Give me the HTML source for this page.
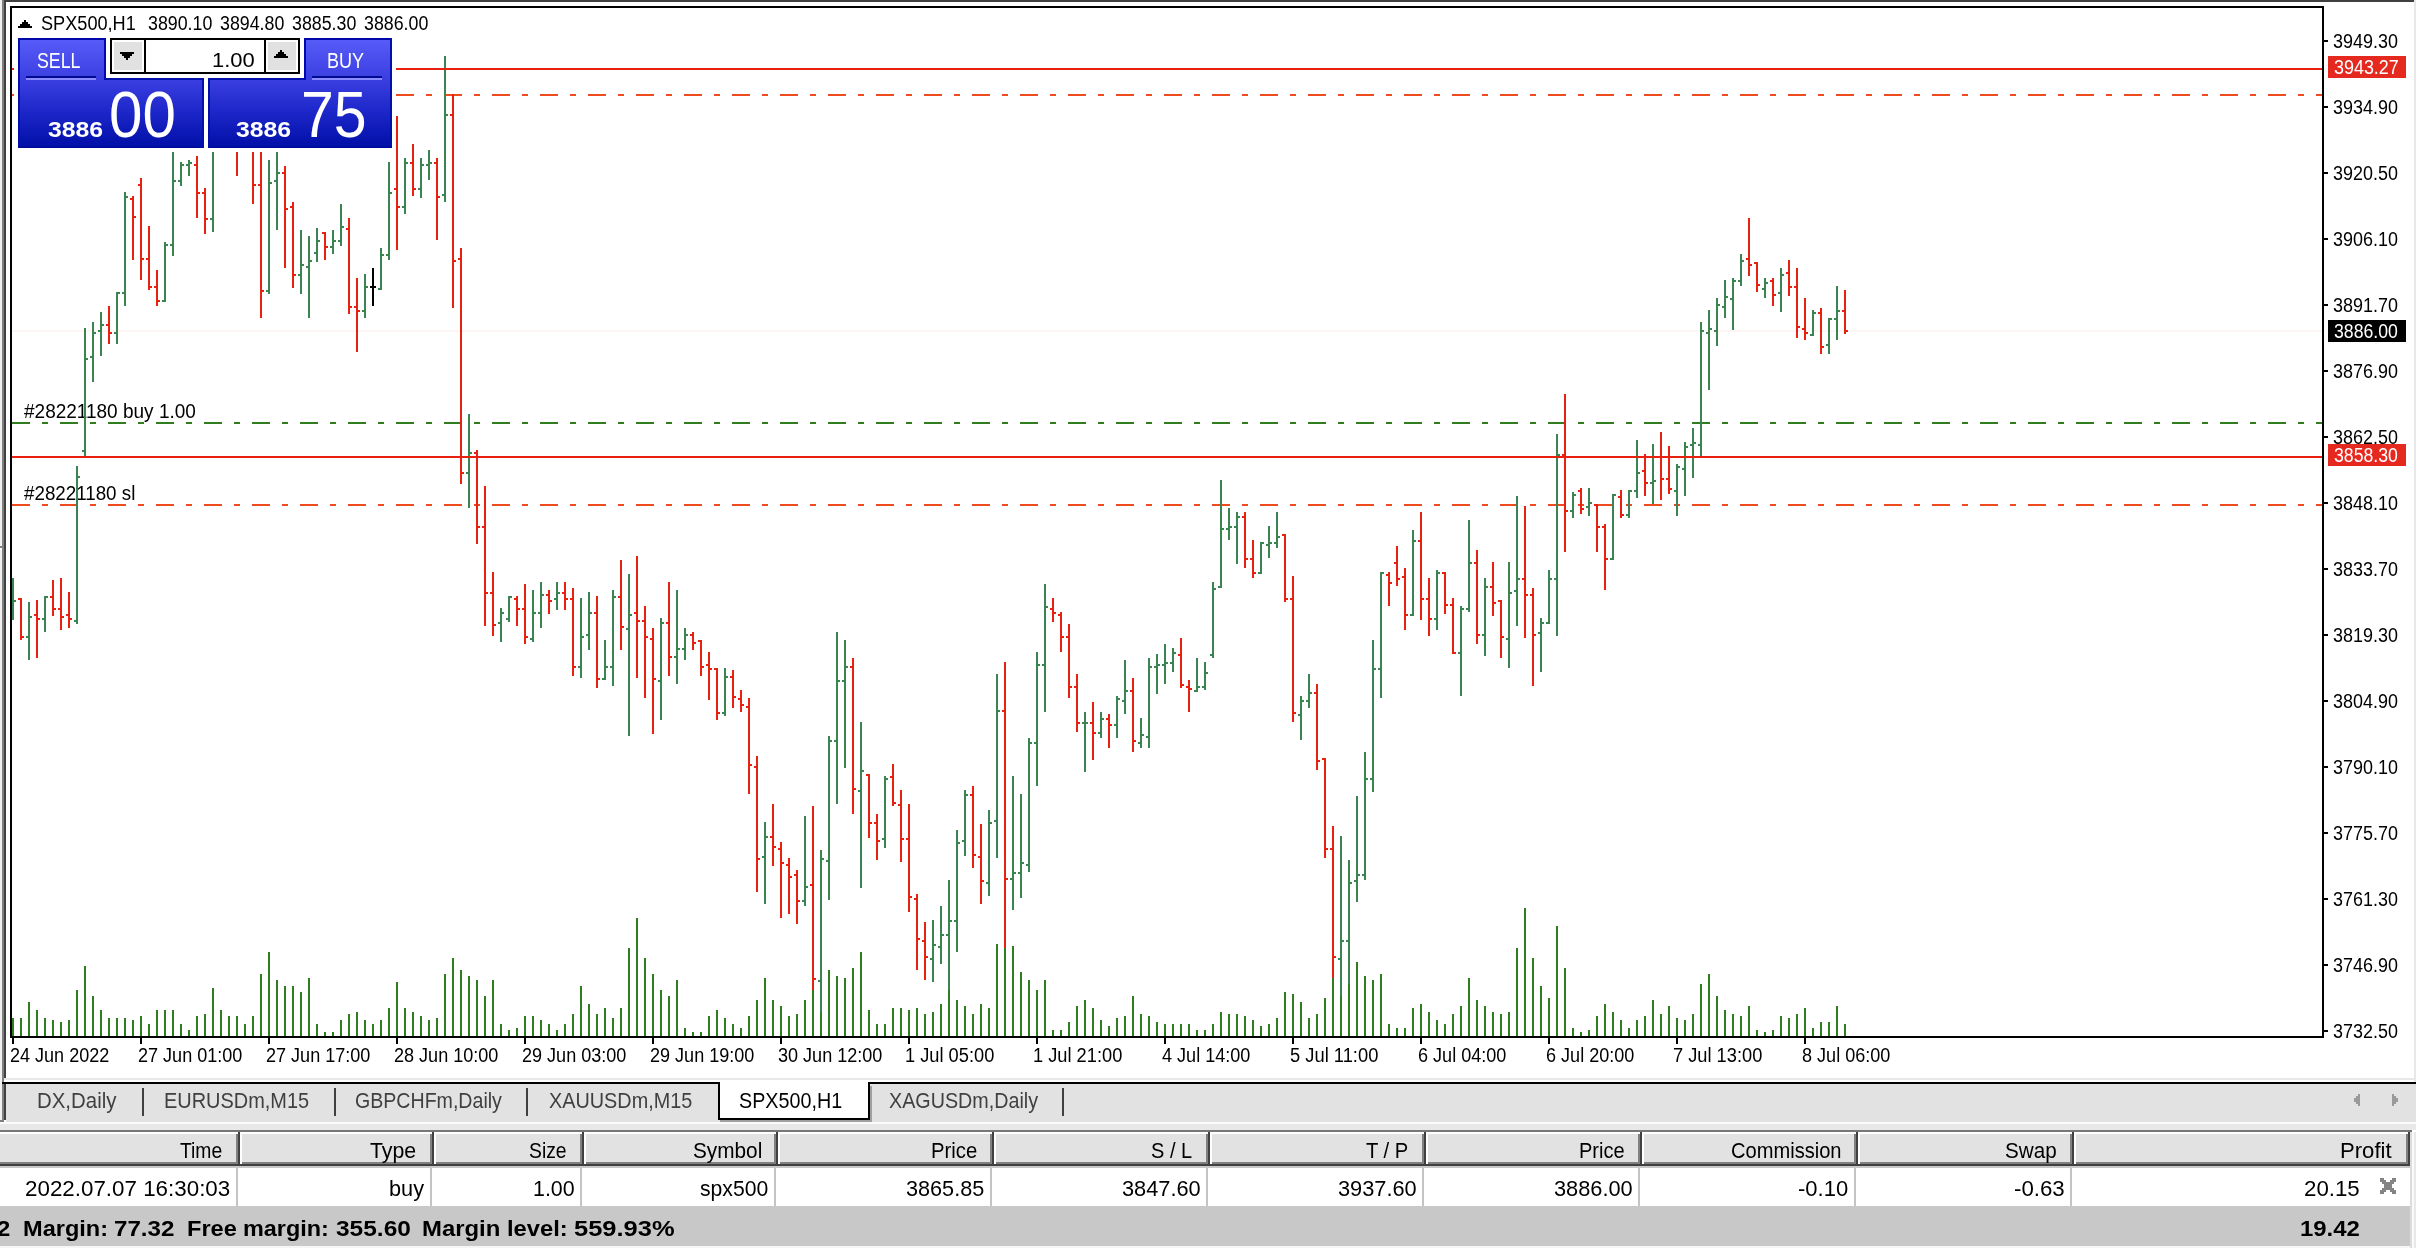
<!DOCTYPE html>
<html><head><meta charset="utf-8"><title>SPX500,H1</title>
<style>
html,body{margin:0;padding:0;overflow:hidden;}
body{width:2416px;height:1248px;position:relative;overflow:hidden;background:#fff;font-family:"Liberation Sans", sans-serif;}
#w{position:absolute;left:0;top:0;width:2416px;height:1248px;will-change:transform;}
#w>div{position:absolute;}
.t{white-space:pre;}
</style></head><body><div id="w">
<div style="left:0px;top:0px;width:2px;height:1122px;background:#f0f0f0;"></div>
<div style="left:2px;top:0px;width:2px;height:1122px;background:#808080;"></div>
<div style="left:4px;top:0px;width:2px;height:1078px;background:#404040;"></div>
<div style="left:4px;top:1084px;width:2px;height:36px;background:#404040;"></div>
<div style="left:0px;top:1120px;width:4px;height:2px;background:#808080;"></div>
<div style="left:0px;top:546px;width:2px;height:2px;background:#808080;"></div>
<div style="left:0px;top:548px;width:2px;height:2px;background:#fff;"></div>
<div style="left:4px;top:0px;width:2410px;height:2px;background:#404040;"></div>
<div style="left:2414px;top:0px;width:2px;height:1084px;background:#e8e8e8;"></div>
<div style="left:10px;top:6px;width:2314px;height:2px;background:#000;"></div>
<div style="left:10px;top:6px;width:2px;height:1032px;background:#000;"></div>
<div style="left:10px;top:1036px;width:2314px;height:2px;background:#000;"></div>
<div style="left:2322px;top:6px;width:2px;height:1032px;background:#000;"></div>
<div class="t" style="left:24.00px;top:402.49px;font-size:19.5px;line-height:19.5px;color:#000;transform:scaleX(0.9743);transform-origin:0 0;">#28221180 buy 1.00</div>
<div class="t" style="left:24.00px;top:484.49px;font-size:19.5px;line-height:19.5px;color:#000;transform:scaleX(0.9625);transform-origin:0 0;">#28221180 sl</div>
<svg style="position:absolute;left:0;top:0" width="2416" height="1040" shape-rendering="crispEdges"><rect x="12" y="330" width="2310" height="2" fill="#fdf5f3"/><rect x="12" y="94" width="18" height="2" fill="#ee4c20"/><rect x="42" y="94" width="6" height="2" fill="#ee4c20"/><rect x="60" y="94" width="18" height="2" fill="#ee4c20"/><rect x="90" y="94" width="6" height="2" fill="#ee4c20"/><rect x="108" y="94" width="18" height="2" fill="#ee4c20"/><rect x="138" y="94" width="6" height="2" fill="#ee4c20"/><rect x="156" y="94" width="18" height="2" fill="#ee4c20"/><rect x="186" y="94" width="6" height="2" fill="#ee4c20"/><rect x="204" y="94" width="18" height="2" fill="#ee4c20"/><rect x="234" y="94" width="6" height="2" fill="#ee4c20"/><rect x="252" y="94" width="18" height="2" fill="#ee4c20"/><rect x="282" y="94" width="6" height="2" fill="#ee4c20"/><rect x="300" y="94" width="18" height="2" fill="#ee4c20"/><rect x="330" y="94" width="6" height="2" fill="#ee4c20"/><rect x="348" y="94" width="18" height="2" fill="#ee4c20"/><rect x="378" y="94" width="6" height="2" fill="#ee4c20"/><rect x="396" y="94" width="18" height="2" fill="#ee4c20"/><rect x="426" y="94" width="6" height="2" fill="#ee4c20"/><rect x="444" y="94" width="18" height="2" fill="#ee4c20"/><rect x="474" y="94" width="6" height="2" fill="#ee4c20"/><rect x="492" y="94" width="18" height="2" fill="#ee4c20"/><rect x="522" y="94" width="6" height="2" fill="#ee4c20"/><rect x="540" y="94" width="18" height="2" fill="#ee4c20"/><rect x="570" y="94" width="6" height="2" fill="#ee4c20"/><rect x="588" y="94" width="18" height="2" fill="#ee4c20"/><rect x="618" y="94" width="6" height="2" fill="#ee4c20"/><rect x="636" y="94" width="18" height="2" fill="#ee4c20"/><rect x="666" y="94" width="6" height="2" fill="#ee4c20"/><rect x="684" y="94" width="18" height="2" fill="#ee4c20"/><rect x="714" y="94" width="6" height="2" fill="#ee4c20"/><rect x="732" y="94" width="18" height="2" fill="#ee4c20"/><rect x="762" y="94" width="6" height="2" fill="#ee4c20"/><rect x="780" y="94" width="18" height="2" fill="#ee4c20"/><rect x="810" y="94" width="6" height="2" fill="#ee4c20"/><rect x="828" y="94" width="18" height="2" fill="#ee4c20"/><rect x="858" y="94" width="6" height="2" fill="#ee4c20"/><rect x="876" y="94" width="18" height="2" fill="#ee4c20"/><rect x="906" y="94" width="6" height="2" fill="#ee4c20"/><rect x="924" y="94" width="18" height="2" fill="#ee4c20"/><rect x="954" y="94" width="6" height="2" fill="#ee4c20"/><rect x="972" y="94" width="18" height="2" fill="#ee4c20"/><rect x="1002" y="94" width="6" height="2" fill="#ee4c20"/><rect x="1020" y="94" width="18" height="2" fill="#ee4c20"/><rect x="1050" y="94" width="6" height="2" fill="#ee4c20"/><rect x="1068" y="94" width="18" height="2" fill="#ee4c20"/><rect x="1098" y="94" width="6" height="2" fill="#ee4c20"/><rect x="1116" y="94" width="18" height="2" fill="#ee4c20"/><rect x="1146" y="94" width="6" height="2" fill="#ee4c20"/><rect x="1164" y="94" width="18" height="2" fill="#ee4c20"/><rect x="1194" y="94" width="6" height="2" fill="#ee4c20"/><rect x="1212" y="94" width="18" height="2" fill="#ee4c20"/><rect x="1242" y="94" width="6" height="2" fill="#ee4c20"/><rect x="1260" y="94" width="18" height="2" fill="#ee4c20"/><rect x="1290" y="94" width="6" height="2" fill="#ee4c20"/><rect x="1308" y="94" width="18" height="2" fill="#ee4c20"/><rect x="1338" y="94" width="6" height="2" fill="#ee4c20"/><rect x="1356" y="94" width="18" height="2" fill="#ee4c20"/><rect x="1386" y="94" width="6" height="2" fill="#ee4c20"/><rect x="1404" y="94" width="18" height="2" fill="#ee4c20"/><rect x="1434" y="94" width="6" height="2" fill="#ee4c20"/><rect x="1452" y="94" width="18" height="2" fill="#ee4c20"/><rect x="1482" y="94" width="6" height="2" fill="#ee4c20"/><rect x="1500" y="94" width="18" height="2" fill="#ee4c20"/><rect x="1530" y="94" width="6" height="2" fill="#ee4c20"/><rect x="1548" y="94" width="18" height="2" fill="#ee4c20"/><rect x="1578" y="94" width="6" height="2" fill="#ee4c20"/><rect x="1596" y="94" width="18" height="2" fill="#ee4c20"/><rect x="1626" y="94" width="6" height="2" fill="#ee4c20"/><rect x="1644" y="94" width="18" height="2" fill="#ee4c20"/><rect x="1674" y="94" width="6" height="2" fill="#ee4c20"/><rect x="1692" y="94" width="18" height="2" fill="#ee4c20"/><rect x="1722" y="94" width="6" height="2" fill="#ee4c20"/><rect x="1740" y="94" width="18" height="2" fill="#ee4c20"/><rect x="1770" y="94" width="6" height="2" fill="#ee4c20"/><rect x="1788" y="94" width="18" height="2" fill="#ee4c20"/><rect x="1818" y="94" width="6" height="2" fill="#ee4c20"/><rect x="1836" y="94" width="18" height="2" fill="#ee4c20"/><rect x="1866" y="94" width="6" height="2" fill="#ee4c20"/><rect x="1884" y="94" width="18" height="2" fill="#ee4c20"/><rect x="1914" y="94" width="6" height="2" fill="#ee4c20"/><rect x="1932" y="94" width="18" height="2" fill="#ee4c20"/><rect x="1962" y="94" width="6" height="2" fill="#ee4c20"/><rect x="1980" y="94" width="18" height="2" fill="#ee4c20"/><rect x="2010" y="94" width="6" height="2" fill="#ee4c20"/><rect x="2028" y="94" width="18" height="2" fill="#ee4c20"/><rect x="2058" y="94" width="6" height="2" fill="#ee4c20"/><rect x="2076" y="94" width="18" height="2" fill="#ee4c20"/><rect x="2106" y="94" width="6" height="2" fill="#ee4c20"/><rect x="2124" y="94" width="18" height="2" fill="#ee4c20"/><rect x="2154" y="94" width="6" height="2" fill="#ee4c20"/><rect x="2172" y="94" width="18" height="2" fill="#ee4c20"/><rect x="2202" y="94" width="6" height="2" fill="#ee4c20"/><rect x="2220" y="94" width="18" height="2" fill="#ee4c20"/><rect x="2250" y="94" width="6" height="2" fill="#ee4c20"/><rect x="2268" y="94" width="18" height="2" fill="#ee4c20"/><rect x="2298" y="94" width="6" height="2" fill="#ee4c20"/><rect x="2316" y="94" width="6" height="2" fill="#ee4c20"/><rect x="12" y="422" width="18" height="2" fill="#2e7d1e"/><rect x="42" y="422" width="6" height="2" fill="#2e7d1e"/><rect x="60" y="422" width="18" height="2" fill="#2e7d1e"/><rect x="90" y="422" width="6" height="2" fill="#2e7d1e"/><rect x="108" y="422" width="18" height="2" fill="#2e7d1e"/><rect x="138" y="422" width="6" height="2" fill="#2e7d1e"/><rect x="156" y="422" width="18" height="2" fill="#2e7d1e"/><rect x="186" y="422" width="6" height="2" fill="#2e7d1e"/><rect x="204" y="422" width="18" height="2" fill="#2e7d1e"/><rect x="234" y="422" width="6" height="2" fill="#2e7d1e"/><rect x="252" y="422" width="18" height="2" fill="#2e7d1e"/><rect x="282" y="422" width="6" height="2" fill="#2e7d1e"/><rect x="300" y="422" width="18" height="2" fill="#2e7d1e"/><rect x="330" y="422" width="6" height="2" fill="#2e7d1e"/><rect x="348" y="422" width="18" height="2" fill="#2e7d1e"/><rect x="378" y="422" width="6" height="2" fill="#2e7d1e"/><rect x="396" y="422" width="18" height="2" fill="#2e7d1e"/><rect x="426" y="422" width="6" height="2" fill="#2e7d1e"/><rect x="444" y="422" width="18" height="2" fill="#2e7d1e"/><rect x="474" y="422" width="6" height="2" fill="#2e7d1e"/><rect x="492" y="422" width="18" height="2" fill="#2e7d1e"/><rect x="522" y="422" width="6" height="2" fill="#2e7d1e"/><rect x="540" y="422" width="18" height="2" fill="#2e7d1e"/><rect x="570" y="422" width="6" height="2" fill="#2e7d1e"/><rect x="588" y="422" width="18" height="2" fill="#2e7d1e"/><rect x="618" y="422" width="6" height="2" fill="#2e7d1e"/><rect x="636" y="422" width="18" height="2" fill="#2e7d1e"/><rect x="666" y="422" width="6" height="2" fill="#2e7d1e"/><rect x="684" y="422" width="18" height="2" fill="#2e7d1e"/><rect x="714" y="422" width="6" height="2" fill="#2e7d1e"/><rect x="732" y="422" width="18" height="2" fill="#2e7d1e"/><rect x="762" y="422" width="6" height="2" fill="#2e7d1e"/><rect x="780" y="422" width="18" height="2" fill="#2e7d1e"/><rect x="810" y="422" width="6" height="2" fill="#2e7d1e"/><rect x="828" y="422" width="18" height="2" fill="#2e7d1e"/><rect x="858" y="422" width="6" height="2" fill="#2e7d1e"/><rect x="876" y="422" width="18" height="2" fill="#2e7d1e"/><rect x="906" y="422" width="6" height="2" fill="#2e7d1e"/><rect x="924" y="422" width="18" height="2" fill="#2e7d1e"/><rect x="954" y="422" width="6" height="2" fill="#2e7d1e"/><rect x="972" y="422" width="18" height="2" fill="#2e7d1e"/><rect x="1002" y="422" width="6" height="2" fill="#2e7d1e"/><rect x="1020" y="422" width="18" height="2" fill="#2e7d1e"/><rect x="1050" y="422" width="6" height="2" fill="#2e7d1e"/><rect x="1068" y="422" width="18" height="2" fill="#2e7d1e"/><rect x="1098" y="422" width="6" height="2" fill="#2e7d1e"/><rect x="1116" y="422" width="18" height="2" fill="#2e7d1e"/><rect x="1146" y="422" width="6" height="2" fill="#2e7d1e"/><rect x="1164" y="422" width="18" height="2" fill="#2e7d1e"/><rect x="1194" y="422" width="6" height="2" fill="#2e7d1e"/><rect x="1212" y="422" width="18" height="2" fill="#2e7d1e"/><rect x="1242" y="422" width="6" height="2" fill="#2e7d1e"/><rect x="1260" y="422" width="18" height="2" fill="#2e7d1e"/><rect x="1290" y="422" width="6" height="2" fill="#2e7d1e"/><rect x="1308" y="422" width="18" height="2" fill="#2e7d1e"/><rect x="1338" y="422" width="6" height="2" fill="#2e7d1e"/><rect x="1356" y="422" width="18" height="2" fill="#2e7d1e"/><rect x="1386" y="422" width="6" height="2" fill="#2e7d1e"/><rect x="1404" y="422" width="18" height="2" fill="#2e7d1e"/><rect x="1434" y="422" width="6" height="2" fill="#2e7d1e"/><rect x="1452" y="422" width="18" height="2" fill="#2e7d1e"/><rect x="1482" y="422" width="6" height="2" fill="#2e7d1e"/><rect x="1500" y="422" width="18" height="2" fill="#2e7d1e"/><rect x="1530" y="422" width="6" height="2" fill="#2e7d1e"/><rect x="1548" y="422" width="18" height="2" fill="#2e7d1e"/><rect x="1578" y="422" width="6" height="2" fill="#2e7d1e"/><rect x="1596" y="422" width="18" height="2" fill="#2e7d1e"/><rect x="1626" y="422" width="6" height="2" fill="#2e7d1e"/><rect x="1644" y="422" width="18" height="2" fill="#2e7d1e"/><rect x="1674" y="422" width="6" height="2" fill="#2e7d1e"/><rect x="1692" y="422" width="18" height="2" fill="#2e7d1e"/><rect x="1722" y="422" width="6" height="2" fill="#2e7d1e"/><rect x="1740" y="422" width="18" height="2" fill="#2e7d1e"/><rect x="1770" y="422" width="6" height="2" fill="#2e7d1e"/><rect x="1788" y="422" width="18" height="2" fill="#2e7d1e"/><rect x="1818" y="422" width="6" height="2" fill="#2e7d1e"/><rect x="1836" y="422" width="18" height="2" fill="#2e7d1e"/><rect x="1866" y="422" width="6" height="2" fill="#2e7d1e"/><rect x="1884" y="422" width="18" height="2" fill="#2e7d1e"/><rect x="1914" y="422" width="6" height="2" fill="#2e7d1e"/><rect x="1932" y="422" width="18" height="2" fill="#2e7d1e"/><rect x="1962" y="422" width="6" height="2" fill="#2e7d1e"/><rect x="1980" y="422" width="18" height="2" fill="#2e7d1e"/><rect x="2010" y="422" width="6" height="2" fill="#2e7d1e"/><rect x="2028" y="422" width="18" height="2" fill="#2e7d1e"/><rect x="2058" y="422" width="6" height="2" fill="#2e7d1e"/><rect x="2076" y="422" width="18" height="2" fill="#2e7d1e"/><rect x="2106" y="422" width="6" height="2" fill="#2e7d1e"/><rect x="2124" y="422" width="18" height="2" fill="#2e7d1e"/><rect x="2154" y="422" width="6" height="2" fill="#2e7d1e"/><rect x="2172" y="422" width="18" height="2" fill="#2e7d1e"/><rect x="2202" y="422" width="6" height="2" fill="#2e7d1e"/><rect x="2220" y="422" width="18" height="2" fill="#2e7d1e"/><rect x="2250" y="422" width="6" height="2" fill="#2e7d1e"/><rect x="2268" y="422" width="18" height="2" fill="#2e7d1e"/><rect x="2298" y="422" width="6" height="2" fill="#2e7d1e"/><rect x="2316" y="422" width="6" height="2" fill="#2e7d1e"/><rect x="12" y="504" width="18" height="2" fill="#ee4c20"/><rect x="42" y="504" width="6" height="2" fill="#ee4c20"/><rect x="60" y="504" width="18" height="2" fill="#ee4c20"/><rect x="90" y="504" width="6" height="2" fill="#ee4c20"/><rect x="108" y="504" width="18" height="2" fill="#ee4c20"/><rect x="138" y="504" width="6" height="2" fill="#ee4c20"/><rect x="156" y="504" width="18" height="2" fill="#ee4c20"/><rect x="186" y="504" width="6" height="2" fill="#ee4c20"/><rect x="204" y="504" width="18" height="2" fill="#ee4c20"/><rect x="234" y="504" width="6" height="2" fill="#ee4c20"/><rect x="252" y="504" width="18" height="2" fill="#ee4c20"/><rect x="282" y="504" width="6" height="2" fill="#ee4c20"/><rect x="300" y="504" width="18" height="2" fill="#ee4c20"/><rect x="330" y="504" width="6" height="2" fill="#ee4c20"/><rect x="348" y="504" width="18" height="2" fill="#ee4c20"/><rect x="378" y="504" width="6" height="2" fill="#ee4c20"/><rect x="396" y="504" width="18" height="2" fill="#ee4c20"/><rect x="426" y="504" width="6" height="2" fill="#ee4c20"/><rect x="444" y="504" width="18" height="2" fill="#ee4c20"/><rect x="474" y="504" width="6" height="2" fill="#ee4c20"/><rect x="492" y="504" width="18" height="2" fill="#ee4c20"/><rect x="522" y="504" width="6" height="2" fill="#ee4c20"/><rect x="540" y="504" width="18" height="2" fill="#ee4c20"/><rect x="570" y="504" width="6" height="2" fill="#ee4c20"/><rect x="588" y="504" width="18" height="2" fill="#ee4c20"/><rect x="618" y="504" width="6" height="2" fill="#ee4c20"/><rect x="636" y="504" width="18" height="2" fill="#ee4c20"/><rect x="666" y="504" width="6" height="2" fill="#ee4c20"/><rect x="684" y="504" width="18" height="2" fill="#ee4c20"/><rect x="714" y="504" width="6" height="2" fill="#ee4c20"/><rect x="732" y="504" width="18" height="2" fill="#ee4c20"/><rect x="762" y="504" width="6" height="2" fill="#ee4c20"/><rect x="780" y="504" width="18" height="2" fill="#ee4c20"/><rect x="810" y="504" width="6" height="2" fill="#ee4c20"/><rect x="828" y="504" width="18" height="2" fill="#ee4c20"/><rect x="858" y="504" width="6" height="2" fill="#ee4c20"/><rect x="876" y="504" width="18" height="2" fill="#ee4c20"/><rect x="906" y="504" width="6" height="2" fill="#ee4c20"/><rect x="924" y="504" width="18" height="2" fill="#ee4c20"/><rect x="954" y="504" width="6" height="2" fill="#ee4c20"/><rect x="972" y="504" width="18" height="2" fill="#ee4c20"/><rect x="1002" y="504" width="6" height="2" fill="#ee4c20"/><rect x="1020" y="504" width="18" height="2" fill="#ee4c20"/><rect x="1050" y="504" width="6" height="2" fill="#ee4c20"/><rect x="1068" y="504" width="18" height="2" fill="#ee4c20"/><rect x="1098" y="504" width="6" height="2" fill="#ee4c20"/><rect x="1116" y="504" width="18" height="2" fill="#ee4c20"/><rect x="1146" y="504" width="6" height="2" fill="#ee4c20"/><rect x="1164" y="504" width="18" height="2" fill="#ee4c20"/><rect x="1194" y="504" width="6" height="2" fill="#ee4c20"/><rect x="1212" y="504" width="18" height="2" fill="#ee4c20"/><rect x="1242" y="504" width="6" height="2" fill="#ee4c20"/><rect x="1260" y="504" width="18" height="2" fill="#ee4c20"/><rect x="1290" y="504" width="6" height="2" fill="#ee4c20"/><rect x="1308" y="504" width="18" height="2" fill="#ee4c20"/><rect x="1338" y="504" width="6" height="2" fill="#ee4c20"/><rect x="1356" y="504" width="18" height="2" fill="#ee4c20"/><rect x="1386" y="504" width="6" height="2" fill="#ee4c20"/><rect x="1404" y="504" width="18" height="2" fill="#ee4c20"/><rect x="1434" y="504" width="6" height="2" fill="#ee4c20"/><rect x="1452" y="504" width="18" height="2" fill="#ee4c20"/><rect x="1482" y="504" width="6" height="2" fill="#ee4c20"/><rect x="1500" y="504" width="18" height="2" fill="#ee4c20"/><rect x="1530" y="504" width="6" height="2" fill="#ee4c20"/><rect x="1548" y="504" width="18" height="2" fill="#ee4c20"/><rect x="1578" y="504" width="6" height="2" fill="#ee4c20"/><rect x="1596" y="504" width="18" height="2" fill="#ee4c20"/><rect x="1626" y="504" width="6" height="2" fill="#ee4c20"/><rect x="1644" y="504" width="18" height="2" fill="#ee4c20"/><rect x="1674" y="504" width="6" height="2" fill="#ee4c20"/><rect x="1692" y="504" width="18" height="2" fill="#ee4c20"/><rect x="1722" y="504" width="6" height="2" fill="#ee4c20"/><rect x="1740" y="504" width="18" height="2" fill="#ee4c20"/><rect x="1770" y="504" width="6" height="2" fill="#ee4c20"/><rect x="1788" y="504" width="18" height="2" fill="#ee4c20"/><rect x="1818" y="504" width="6" height="2" fill="#ee4c20"/><rect x="1836" y="504" width="18" height="2" fill="#ee4c20"/><rect x="1866" y="504" width="6" height="2" fill="#ee4c20"/><rect x="1884" y="504" width="18" height="2" fill="#ee4c20"/><rect x="1914" y="504" width="6" height="2" fill="#ee4c20"/><rect x="1932" y="504" width="18" height="2" fill="#ee4c20"/><rect x="1962" y="504" width="6" height="2" fill="#ee4c20"/><rect x="1980" y="504" width="18" height="2" fill="#ee4c20"/><rect x="2010" y="504" width="6" height="2" fill="#ee4c20"/><rect x="2028" y="504" width="18" height="2" fill="#ee4c20"/><rect x="2058" y="504" width="6" height="2" fill="#ee4c20"/><rect x="2076" y="504" width="18" height="2" fill="#ee4c20"/><rect x="2106" y="504" width="6" height="2" fill="#ee4c20"/><rect x="2124" y="504" width="18" height="2" fill="#ee4c20"/><rect x="2154" y="504" width="6" height="2" fill="#ee4c20"/><rect x="2172" y="504" width="18" height="2" fill="#ee4c20"/><rect x="2202" y="504" width="6" height="2" fill="#ee4c20"/><rect x="2220" y="504" width="18" height="2" fill="#ee4c20"/><rect x="2250" y="504" width="6" height="2" fill="#ee4c20"/><rect x="2268" y="504" width="18" height="2" fill="#ee4c20"/><rect x="2298" y="504" width="6" height="2" fill="#ee4c20"/><rect x="2316" y="504" width="6" height="2" fill="#ee4c20"/><rect x="12" y="1018" width="2" height="18" fill="#2e7d1e"/><rect x="20" y="1018" width="2" height="18" fill="#2e7d1e"/><rect x="28" y="1002" width="2" height="34" fill="#2e7d1e"/><rect x="36" y="1010" width="2" height="26" fill="#2e7d1e"/><rect x="44" y="1018" width="2" height="18" fill="#2e7d1e"/><rect x="52" y="1020" width="2" height="16" fill="#2e7d1e"/><rect x="60" y="1022" width="2" height="14" fill="#2e7d1e"/><rect x="68" y="1020" width="2" height="16" fill="#2e7d1e"/><rect x="76" y="990" width="2" height="46" fill="#2e7d1e"/><rect x="84" y="966" width="2" height="70" fill="#2e7d1e"/><rect x="92" y="996" width="2" height="40" fill="#2e7d1e"/><rect x="100" y="1010" width="2" height="26" fill="#2e7d1e"/><rect x="108" y="1018" width="2" height="18" fill="#2e7d1e"/><rect x="116" y="1018" width="2" height="18" fill="#2e7d1e"/><rect x="124" y="1018" width="2" height="18" fill="#2e7d1e"/><rect x="132" y="1020" width="2" height="16" fill="#2e7d1e"/><rect x="140" y="1016" width="2" height="20" fill="#2e7d1e"/><rect x="148" y="1024" width="2" height="12" fill="#2e7d1e"/><rect x="156" y="1010" width="2" height="26" fill="#2e7d1e"/><rect x="164" y="1010" width="2" height="26" fill="#2e7d1e"/><rect x="172" y="1010" width="2" height="26" fill="#2e7d1e"/><rect x="180" y="1024" width="2" height="12" fill="#2e7d1e"/><rect x="188" y="1030" width="2" height="6" fill="#2e7d1e"/><rect x="196" y="1016" width="2" height="20" fill="#2e7d1e"/><rect x="204" y="1014" width="2" height="22" fill="#2e7d1e"/><rect x="212" y="988" width="2" height="48" fill="#2e7d1e"/><rect x="220" y="1010" width="2" height="26" fill="#2e7d1e"/><rect x="228" y="1016" width="2" height="20" fill="#2e7d1e"/><rect x="236" y="1016" width="2" height="20" fill="#2e7d1e"/><rect x="244" y="1024" width="2" height="12" fill="#2e7d1e"/><rect x="252" y="1016" width="2" height="20" fill="#2e7d1e"/><rect x="260" y="974" width="2" height="62" fill="#2e7d1e"/><rect x="268" y="952" width="2" height="84" fill="#2e7d1e"/><rect x="276" y="980" width="2" height="56" fill="#2e7d1e"/><rect x="284" y="986" width="2" height="50" fill="#2e7d1e"/><rect x="292" y="986" width="2" height="50" fill="#2e7d1e"/><rect x="300" y="992" width="2" height="44" fill="#2e7d1e"/><rect x="308" y="978" width="2" height="58" fill="#2e7d1e"/><rect x="316" y="1024" width="2" height="12" fill="#2e7d1e"/><rect x="324" y="1032" width="2" height="4" fill="#2e7d1e"/><rect x="332" y="1032" width="2" height="4" fill="#2e7d1e"/><rect x="340" y="1020" width="2" height="16" fill="#2e7d1e"/><rect x="348" y="1014" width="2" height="22" fill="#2e7d1e"/><rect x="356" y="1012" width="2" height="24" fill="#2e7d1e"/><rect x="364" y="1020" width="2" height="16" fill="#2e7d1e"/><rect x="372" y="1024" width="2" height="12" fill="#2e7d1e"/><rect x="380" y="1020" width="2" height="16" fill="#2e7d1e"/><rect x="388" y="1008" width="2" height="28" fill="#2e7d1e"/><rect x="396" y="982" width="2" height="54" fill="#2e7d1e"/><rect x="404" y="1008" width="2" height="28" fill="#2e7d1e"/><rect x="412" y="1012" width="2" height="24" fill="#2e7d1e"/><rect x="420" y="1016" width="2" height="20" fill="#2e7d1e"/><rect x="428" y="1020" width="2" height="16" fill="#2e7d1e"/><rect x="436" y="1018" width="2" height="18" fill="#2e7d1e"/><rect x="444" y="974" width="2" height="62" fill="#2e7d1e"/><rect x="452" y="958" width="2" height="78" fill="#2e7d1e"/><rect x="460" y="970" width="2" height="66" fill="#2e7d1e"/><rect x="468" y="976" width="2" height="60" fill="#2e7d1e"/><rect x="476" y="980" width="2" height="56" fill="#2e7d1e"/><rect x="484" y="996" width="2" height="40" fill="#2e7d1e"/><rect x="492" y="980" width="2" height="56" fill="#2e7d1e"/><rect x="500" y="1024" width="2" height="12" fill="#2e7d1e"/><rect x="508" y="1030" width="2" height="6" fill="#2e7d1e"/><rect x="516" y="1028" width="2" height="8" fill="#2e7d1e"/><rect x="524" y="1016" width="2" height="20" fill="#2e7d1e"/><rect x="532" y="1016" width="2" height="20" fill="#2e7d1e"/><rect x="540" y="1020" width="2" height="16" fill="#2e7d1e"/><rect x="548" y="1024" width="2" height="12" fill="#2e7d1e"/><rect x="556" y="1030" width="2" height="6" fill="#2e7d1e"/><rect x="564" y="1024" width="2" height="12" fill="#2e7d1e"/><rect x="572" y="1014" width="2" height="22" fill="#2e7d1e"/><rect x="580" y="986" width="2" height="50" fill="#2e7d1e"/><rect x="588" y="1004" width="2" height="32" fill="#2e7d1e"/><rect x="596" y="1014" width="2" height="22" fill="#2e7d1e"/><rect x="604" y="1008" width="2" height="28" fill="#2e7d1e"/><rect x="612" y="1018" width="2" height="18" fill="#2e7d1e"/><rect x="620" y="1008" width="2" height="28" fill="#2e7d1e"/><rect x="628" y="948" width="2" height="88" fill="#2e7d1e"/><rect x="636" y="918" width="2" height="118" fill="#2e7d1e"/><rect x="644" y="958" width="2" height="78" fill="#2e7d1e"/><rect x="652" y="974" width="2" height="62" fill="#2e7d1e"/><rect x="660" y="990" width="2" height="46" fill="#2e7d1e"/><rect x="668" y="996" width="2" height="40" fill="#2e7d1e"/><rect x="676" y="980" width="2" height="56" fill="#2e7d1e"/><rect x="684" y="1028" width="2" height="8" fill="#2e7d1e"/><rect x="692" y="1032" width="2" height="4" fill="#2e7d1e"/><rect x="700" y="1032" width="2" height="4" fill="#2e7d1e"/><rect x="708" y="1016" width="2" height="20" fill="#2e7d1e"/><rect x="716" y="1010" width="2" height="26" fill="#2e7d1e"/><rect x="724" y="1018" width="2" height="18" fill="#2e7d1e"/><rect x="732" y="1024" width="2" height="12" fill="#2e7d1e"/><rect x="740" y="1028" width="2" height="8" fill="#2e7d1e"/><rect x="748" y="1016" width="2" height="20" fill="#2e7d1e"/><rect x="756" y="1000" width="2" height="36" fill="#2e7d1e"/><rect x="764" y="978" width="2" height="58" fill="#2e7d1e"/><rect x="772" y="1000" width="2" height="36" fill="#2e7d1e"/><rect x="780" y="1006" width="2" height="30" fill="#2e7d1e"/><rect x="788" y="1016" width="2" height="20" fill="#2e7d1e"/><rect x="796" y="1014" width="2" height="22" fill="#2e7d1e"/><rect x="804" y="1000" width="2" height="36" fill="#2e7d1e"/><rect x="812" y="990" width="2" height="46" fill="#2e7d1e"/><rect x="820" y="1010" width="2" height="26" fill="#2e7d1e"/><rect x="828" y="970" width="2" height="66" fill="#2e7d1e"/><rect x="836" y="976" width="2" height="60" fill="#2e7d1e"/><rect x="844" y="978" width="2" height="58" fill="#2e7d1e"/><rect x="852" y="968" width="2" height="68" fill="#2e7d1e"/><rect x="860" y="952" width="2" height="84" fill="#2e7d1e"/><rect x="868" y="1010" width="2" height="26" fill="#2e7d1e"/><rect x="876" y="1024" width="2" height="12" fill="#2e7d1e"/><rect x="884" y="1024" width="2" height="12" fill="#2e7d1e"/><rect x="892" y="1008" width="2" height="28" fill="#2e7d1e"/><rect x="900" y="1008" width="2" height="28" fill="#2e7d1e"/><rect x="908" y="1010" width="2" height="26" fill="#2e7d1e"/><rect x="916" y="1008" width="2" height="28" fill="#2e7d1e"/><rect x="924" y="1014" width="2" height="22" fill="#2e7d1e"/><rect x="932" y="1012" width="2" height="24" fill="#2e7d1e"/><rect x="940" y="1004" width="2" height="32" fill="#2e7d1e"/><rect x="948" y="990" width="2" height="46" fill="#2e7d1e"/><rect x="956" y="1000" width="2" height="36" fill="#2e7d1e"/><rect x="964" y="1006" width="2" height="30" fill="#2e7d1e"/><rect x="972" y="1014" width="2" height="22" fill="#2e7d1e"/><rect x="980" y="1004" width="2" height="32" fill="#2e7d1e"/><rect x="988" y="1008" width="2" height="28" fill="#2e7d1e"/><rect x="996" y="944" width="2" height="92" fill="#2e7d1e"/><rect x="1004" y="948" width="2" height="88" fill="#2e7d1e"/><rect x="1012" y="946" width="2" height="90" fill="#2e7d1e"/><rect x="1020" y="972" width="2" height="64" fill="#2e7d1e"/><rect x="1028" y="980" width="2" height="56" fill="#2e7d1e"/><rect x="1036" y="990" width="2" height="46" fill="#2e7d1e"/><rect x="1044" y="980" width="2" height="56" fill="#2e7d1e"/><rect x="1052" y="1030" width="2" height="6" fill="#2e7d1e"/><rect x="1060" y="1030" width="2" height="6" fill="#2e7d1e"/><rect x="1068" y="1022" width="2" height="14" fill="#2e7d1e"/><rect x="1076" y="1006" width="2" height="30" fill="#2e7d1e"/><rect x="1084" y="1000" width="2" height="36" fill="#2e7d1e"/><rect x="1092" y="1008" width="2" height="28" fill="#2e7d1e"/><rect x="1100" y="1020" width="2" height="16" fill="#2e7d1e"/><rect x="1108" y="1026" width="2" height="10" fill="#2e7d1e"/><rect x="1116" y="1018" width="2" height="18" fill="#2e7d1e"/><rect x="1124" y="1016" width="2" height="20" fill="#2e7d1e"/><rect x="1132" y="996" width="2" height="40" fill="#2e7d1e"/><rect x="1140" y="1014" width="2" height="22" fill="#2e7d1e"/><rect x="1148" y="1016" width="2" height="20" fill="#2e7d1e"/><rect x="1156" y="1022" width="2" height="14" fill="#2e7d1e"/><rect x="1164" y="1024" width="2" height="12" fill="#2e7d1e"/><rect x="1172" y="1024" width="2" height="12" fill="#2e7d1e"/><rect x="1180" y="1024" width="2" height="12" fill="#2e7d1e"/><rect x="1188" y="1024" width="2" height="12" fill="#2e7d1e"/><rect x="1196" y="1030" width="2" height="6" fill="#2e7d1e"/><rect x="1204" y="1030" width="2" height="6" fill="#2e7d1e"/><rect x="1212" y="1024" width="2" height="12" fill="#2e7d1e"/><rect x="1220" y="1012" width="2" height="24" fill="#2e7d1e"/><rect x="1228" y="1014" width="2" height="22" fill="#2e7d1e"/><rect x="1236" y="1014" width="2" height="22" fill="#2e7d1e"/><rect x="1244" y="1016" width="2" height="20" fill="#2e7d1e"/><rect x="1252" y="1020" width="2" height="16" fill="#2e7d1e"/><rect x="1260" y="1026" width="2" height="10" fill="#2e7d1e"/><rect x="1268" y="1024" width="2" height="12" fill="#2e7d1e"/><rect x="1276" y="1018" width="2" height="18" fill="#2e7d1e"/><rect x="1284" y="992" width="2" height="44" fill="#2e7d1e"/><rect x="1292" y="994" width="2" height="42" fill="#2e7d1e"/><rect x="1300" y="1002" width="2" height="34" fill="#2e7d1e"/><rect x="1308" y="1018" width="2" height="18" fill="#2e7d1e"/><rect x="1316" y="1014" width="2" height="22" fill="#2e7d1e"/><rect x="1324" y="998" width="2" height="38" fill="#2e7d1e"/><rect x="1332" y="978" width="2" height="58" fill="#2e7d1e"/><rect x="1340" y="996" width="2" height="40" fill="#2e7d1e"/><rect x="1348" y="984" width="2" height="52" fill="#2e7d1e"/><rect x="1356" y="962" width="2" height="74" fill="#2e7d1e"/><rect x="1364" y="976" width="2" height="60" fill="#2e7d1e"/><rect x="1372" y="980" width="2" height="56" fill="#2e7d1e"/><rect x="1380" y="974" width="2" height="62" fill="#2e7d1e"/><rect x="1388" y="1024" width="2" height="12" fill="#2e7d1e"/><rect x="1396" y="1028" width="2" height="8" fill="#2e7d1e"/><rect x="1404" y="1028" width="2" height="8" fill="#2e7d1e"/><rect x="1412" y="1008" width="2" height="28" fill="#2e7d1e"/><rect x="1420" y="1004" width="2" height="32" fill="#2e7d1e"/><rect x="1428" y="1012" width="2" height="24" fill="#2e7d1e"/><rect x="1436" y="1020" width="2" height="16" fill="#2e7d1e"/><rect x="1444" y="1024" width="2" height="12" fill="#2e7d1e"/><rect x="1452" y="1014" width="2" height="22" fill="#2e7d1e"/><rect x="1460" y="1006" width="2" height="30" fill="#2e7d1e"/><rect x="1468" y="978" width="2" height="58" fill="#2e7d1e"/><rect x="1476" y="1000" width="2" height="36" fill="#2e7d1e"/><rect x="1484" y="1006" width="2" height="30" fill="#2e7d1e"/><rect x="1492" y="1012" width="2" height="24" fill="#2e7d1e"/><rect x="1500" y="1014" width="2" height="22" fill="#2e7d1e"/><rect x="1508" y="1012" width="2" height="24" fill="#2e7d1e"/><rect x="1516" y="948" width="2" height="88" fill="#2e7d1e"/><rect x="1524" y="908" width="2" height="128" fill="#2e7d1e"/><rect x="1532" y="958" width="2" height="78" fill="#2e7d1e"/><rect x="1540" y="986" width="2" height="50" fill="#2e7d1e"/><rect x="1548" y="998" width="2" height="38" fill="#2e7d1e"/><rect x="1556" y="926" width="2" height="110" fill="#2e7d1e"/><rect x="1564" y="968" width="2" height="68" fill="#2e7d1e"/><rect x="1572" y="1028" width="2" height="8" fill="#2e7d1e"/><rect x="1580" y="1032" width="2" height="4" fill="#2e7d1e"/><rect x="1588" y="1030" width="2" height="6" fill="#2e7d1e"/><rect x="1596" y="1016" width="2" height="20" fill="#2e7d1e"/><rect x="1604" y="1004" width="2" height="32" fill="#2e7d1e"/><rect x="1612" y="1012" width="2" height="24" fill="#2e7d1e"/><rect x="1620" y="1020" width="2" height="16" fill="#2e7d1e"/><rect x="1628" y="1028" width="2" height="8" fill="#2e7d1e"/><rect x="1636" y="1020" width="2" height="16" fill="#2e7d1e"/><rect x="1644" y="1016" width="2" height="20" fill="#2e7d1e"/><rect x="1652" y="1000" width="2" height="36" fill="#2e7d1e"/><rect x="1660" y="1014" width="2" height="22" fill="#2e7d1e"/><rect x="1668" y="1006" width="2" height="30" fill="#2e7d1e"/><rect x="1676" y="1018" width="2" height="18" fill="#2e7d1e"/><rect x="1684" y="1020" width="2" height="16" fill="#2e7d1e"/><rect x="1692" y="1014" width="2" height="22" fill="#2e7d1e"/><rect x="1700" y="984" width="2" height="52" fill="#2e7d1e"/><rect x="1708" y="974" width="2" height="62" fill="#2e7d1e"/><rect x="1716" y="996" width="2" height="40" fill="#2e7d1e"/><rect x="1724" y="1010" width="2" height="26" fill="#2e7d1e"/><rect x="1732" y="1014" width="2" height="22" fill="#2e7d1e"/><rect x="1740" y="1016" width="2" height="20" fill="#2e7d1e"/><rect x="1748" y="1006" width="2" height="30" fill="#2e7d1e"/><rect x="1756" y="1030" width="2" height="6" fill="#2e7d1e"/><rect x="1764" y="1032" width="2" height="4" fill="#2e7d1e"/><rect x="1772" y="1030" width="2" height="6" fill="#2e7d1e"/><rect x="1780" y="1016" width="2" height="20" fill="#2e7d1e"/><rect x="1788" y="1018" width="2" height="18" fill="#2e7d1e"/><rect x="1796" y="1014" width="2" height="22" fill="#2e7d1e"/><rect x="1804" y="1008" width="2" height="28" fill="#2e7d1e"/><rect x="1812" y="1028" width="2" height="8" fill="#2e7d1e"/><rect x="1820" y="1022" width="2" height="14" fill="#2e7d1e"/><rect x="1828" y="1022" width="2" height="14" fill="#2e7d1e"/><rect x="1836" y="1006" width="2" height="30" fill="#2e7d1e"/><rect x="1844" y="1024" width="2" height="12" fill="#2e7d1e"/><rect x="12" y="578" width="2" height="42" fill="#3a8452"/><rect x="14" y="600" width="2" height="2" fill="#3a8452"/><rect x="20" y="598" width="2" height="42" fill="#e8200f"/><rect x="18" y="598" width="2" height="2" fill="#e8200f"/><rect x="22" y="636" width="2" height="2" fill="#e8200f"/><rect x="28" y="602" width="2" height="58" fill="#3a8452"/><rect x="26" y="636" width="2" height="2" fill="#3a8452"/><rect x="30" y="616" width="2" height="2" fill="#3a8452"/><rect x="36" y="600" width="2" height="58" fill="#e8200f"/><rect x="34" y="614" width="2" height="2" fill="#e8200f"/><rect x="38" y="618" width="2" height="2" fill="#e8200f"/><rect x="44" y="596" width="2" height="36" fill="#3a8452"/><rect x="42" y="618" width="2" height="2" fill="#3a8452"/><rect x="46" y="596" width="2" height="2" fill="#3a8452"/><rect x="52" y="580" width="2" height="36" fill="#e8200f"/><rect x="50" y="596" width="2" height="2" fill="#e8200f"/><rect x="54" y="608" width="2" height="2" fill="#e8200f"/><rect x="60" y="578" width="2" height="52" fill="#e8200f"/><rect x="58" y="608" width="2" height="2" fill="#e8200f"/><rect x="62" y="616" width="2" height="2" fill="#e8200f"/><rect x="68" y="592" width="2" height="36" fill="#e8200f"/><rect x="66" y="614" width="2" height="2" fill="#e8200f"/><rect x="70" y="618" width="2" height="2" fill="#e8200f"/><rect x="76" y="466" width="2" height="158" fill="#3a8452"/><rect x="74" y="620" width="2" height="2" fill="#3a8452"/><rect x="78" y="476" width="2" height="2" fill="#3a8452"/><rect x="84" y="328" width="2" height="130" fill="#3a8452"/><rect x="82" y="450" width="2" height="2" fill="#3a8452"/><rect x="86" y="358" width="2" height="2" fill="#3a8452"/><rect x="92" y="322" width="2" height="60" fill="#3a8452"/><rect x="90" y="356" width="2" height="2" fill="#3a8452"/><rect x="94" y="332" width="2" height="2" fill="#3a8452"/><rect x="100" y="312" width="2" height="44" fill="#3a8452"/><rect x="98" y="330" width="2" height="2" fill="#3a8452"/><rect x="102" y="324" width="2" height="2" fill="#3a8452"/><rect x="108" y="306" width="2" height="38" fill="#e8200f"/><rect x="106" y="324" width="2" height="2" fill="#e8200f"/><rect x="110" y="332" width="2" height="2" fill="#e8200f"/><rect x="116" y="292" width="2" height="52" fill="#3a8452"/><rect x="114" y="332" width="2" height="2" fill="#3a8452"/><rect x="118" y="292" width="2" height="2" fill="#3a8452"/><rect x="124" y="192" width="2" height="114" fill="#3a8452"/><rect x="122" y="292" width="2" height="2" fill="#3a8452"/><rect x="126" y="196" width="2" height="2" fill="#3a8452"/><rect x="132" y="196" width="2" height="64" fill="#e8200f"/><rect x="130" y="198" width="2" height="2" fill="#e8200f"/><rect x="134" y="216" width="2" height="2" fill="#e8200f"/><rect x="140" y="178" width="2" height="102" fill="#e8200f"/><rect x="138" y="184" width="2" height="2" fill="#e8200f"/><rect x="142" y="258" width="2" height="2" fill="#e8200f"/><rect x="148" y="226" width="2" height="64" fill="#e8200f"/><rect x="146" y="258" width="2" height="2" fill="#e8200f"/><rect x="150" y="286" width="2" height="2" fill="#e8200f"/><rect x="156" y="270" width="2" height="36" fill="#e8200f"/><rect x="154" y="286" width="2" height="2" fill="#e8200f"/><rect x="158" y="300" width="2" height="2" fill="#e8200f"/><rect x="164" y="242" width="2" height="60" fill="#3a8452"/><rect x="162" y="300" width="2" height="2" fill="#3a8452"/><rect x="166" y="244" width="2" height="2" fill="#3a8452"/><rect x="172" y="140" width="2" height="116" fill="#3a8452"/><rect x="170" y="244" width="2" height="2" fill="#3a8452"/><rect x="174" y="180" width="2" height="2" fill="#3a8452"/><rect x="180" y="162" width="2" height="24" fill="#3a8452"/><rect x="178" y="180" width="2" height="2" fill="#3a8452"/><rect x="182" y="164" width="2" height="2" fill="#3a8452"/><rect x="188" y="160" width="2" height="16" fill="#3a8452"/><rect x="186" y="164" width="2" height="2" fill="#3a8452"/><rect x="190" y="162" width="2" height="2" fill="#3a8452"/><rect x="196" y="156" width="2" height="62" fill="#e8200f"/><rect x="194" y="164" width="2" height="2" fill="#e8200f"/><rect x="198" y="192" width="2" height="2" fill="#e8200f"/><rect x="204" y="188" width="2" height="46" fill="#e8200f"/><rect x="202" y="192" width="2" height="2" fill="#e8200f"/><rect x="206" y="218" width="2" height="2" fill="#e8200f"/><rect x="212" y="120" width="2" height="112" fill="#3a8452"/><rect x="210" y="218" width="2" height="2" fill="#3a8452"/><rect x="214" y="129" width="2" height="2" fill="#3a8452"/><rect x="236" y="120" width="2" height="56" fill="#e8200f"/><rect x="252" y="120" width="2" height="84" fill="#e8200f"/><rect x="254" y="184" width="2" height="2" fill="#e8200f"/><rect x="260" y="140" width="2" height="178" fill="#e8200f"/><rect x="258" y="184" width="2" height="2" fill="#e8200f"/><rect x="262" y="290" width="2" height="2" fill="#e8200f"/><rect x="268" y="160" width="2" height="134" fill="#3a8452"/><rect x="266" y="290" width="2" height="2" fill="#3a8452"/><rect x="270" y="182" width="2" height="2" fill="#3a8452"/><rect x="276" y="140" width="2" height="90" fill="#3a8452"/><rect x="274" y="180" width="2" height="2" fill="#3a8452"/><rect x="278" y="172" width="2" height="2" fill="#3a8452"/><rect x="284" y="166" width="2" height="102" fill="#e8200f"/><rect x="282" y="172" width="2" height="2" fill="#e8200f"/><rect x="286" y="208" width="2" height="2" fill="#e8200f"/><rect x="292" y="202" width="2" height="86" fill="#e8200f"/><rect x="290" y="206" width="2" height="2" fill="#e8200f"/><rect x="294" y="274" width="2" height="2" fill="#e8200f"/><rect x="300" y="230" width="2" height="64" fill="#3a8452"/><rect x="298" y="274" width="2" height="2" fill="#3a8452"/><rect x="302" y="264" width="2" height="2" fill="#3a8452"/><rect x="308" y="236" width="2" height="82" fill="#3a8452"/><rect x="306" y="266" width="2" height="2" fill="#3a8452"/><rect x="310" y="260" width="2" height="2" fill="#3a8452"/><rect x="316" y="228" width="2" height="34" fill="#3a8452"/><rect x="314" y="252" width="2" height="2" fill="#3a8452"/><rect x="318" y="240" width="2" height="2" fill="#3a8452"/><rect x="324" y="232" width="2" height="28" fill="#e8200f"/><rect x="322" y="232" width="2" height="2" fill="#e8200f"/><rect x="326" y="246" width="2" height="2" fill="#e8200f"/><rect x="332" y="230" width="2" height="24" fill="#3a8452"/><rect x="330" y="246" width="2" height="2" fill="#3a8452"/><rect x="334" y="240" width="2" height="2" fill="#3a8452"/><rect x="340" y="204" width="2" height="42" fill="#3a8452"/><rect x="338" y="240" width="2" height="2" fill="#3a8452"/><rect x="342" y="226" width="2" height="2" fill="#3a8452"/><rect x="348" y="218" width="2" height="96" fill="#e8200f"/><rect x="346" y="228" width="2" height="2" fill="#e8200f"/><rect x="350" y="306" width="2" height="2" fill="#e8200f"/><rect x="356" y="278" width="2" height="74" fill="#e8200f"/><rect x="354" y="306" width="2" height="2" fill="#e8200f"/><rect x="358" y="310" width="2" height="2" fill="#e8200f"/><rect x="364" y="274" width="2" height="44" fill="#3a8452"/><rect x="362" y="310" width="2" height="2" fill="#3a8452"/><rect x="366" y="286" width="2" height="2" fill="#3a8452"/><rect x="372" y="268" width="2" height="38" fill="#000"/><rect x="370" y="286" width="2" height="2" fill="#000"/><rect x="374" y="286" width="2" height="2" fill="#000"/><rect x="380" y="248" width="2" height="42" fill="#3a8452"/><rect x="378" y="288" width="2" height="2" fill="#3a8452"/><rect x="382" y="254" width="2" height="2" fill="#3a8452"/><rect x="388" y="162" width="2" height="98" fill="#3a8452"/><rect x="386" y="254" width="2" height="2" fill="#3a8452"/><rect x="390" y="192" width="2" height="2" fill="#3a8452"/><rect x="396" y="116" width="2" height="134" fill="#e8200f"/><rect x="394" y="188" width="2" height="2" fill="#e8200f"/><rect x="398" y="206" width="2" height="2" fill="#e8200f"/><rect x="404" y="158" width="2" height="56" fill="#3a8452"/><rect x="402" y="206" width="2" height="2" fill="#3a8452"/><rect x="406" y="162" width="2" height="2" fill="#3a8452"/><rect x="412" y="144" width="2" height="52" fill="#e8200f"/><rect x="410" y="162" width="2" height="2" fill="#e8200f"/><rect x="414" y="188" width="2" height="2" fill="#e8200f"/><rect x="420" y="158" width="2" height="40" fill="#3a8452"/><rect x="418" y="188" width="2" height="2" fill="#3a8452"/><rect x="422" y="164" width="2" height="2" fill="#3a8452"/><rect x="428" y="150" width="2" height="30" fill="#3a8452"/><rect x="426" y="164" width="2" height="2" fill="#3a8452"/><rect x="430" y="162" width="2" height="2" fill="#3a8452"/><rect x="436" y="158" width="2" height="82" fill="#e8200f"/><rect x="434" y="162" width="2" height="2" fill="#e8200f"/><rect x="438" y="196" width="2" height="2" fill="#e8200f"/><rect x="444" y="56" width="2" height="146" fill="#3a8452"/><rect x="442" y="194" width="2" height="2" fill="#3a8452"/><rect x="446" y="114" width="2" height="2" fill="#3a8452"/><rect x="452" y="94" width="2" height="214" fill="#e8200f"/><rect x="450" y="114" width="2" height="2" fill="#e8200f"/><rect x="454" y="260" width="2" height="2" fill="#e8200f"/><rect x="460" y="248" width="2" height="236" fill="#e8200f"/><rect x="458" y="258" width="2" height="2" fill="#e8200f"/><rect x="462" y="472" width="2" height="2" fill="#e8200f"/><rect x="468" y="414" width="2" height="94" fill="#3a8452"/><rect x="466" y="472" width="2" height="2" fill="#3a8452"/><rect x="470" y="452" width="2" height="2" fill="#3a8452"/><rect x="476" y="450" width="2" height="94" fill="#e8200f"/><rect x="474" y="452" width="2" height="2" fill="#e8200f"/><rect x="478" y="526" width="2" height="2" fill="#e8200f"/><rect x="484" y="486" width="2" height="140" fill="#e8200f"/><rect x="482" y="526" width="2" height="2" fill="#e8200f"/><rect x="486" y="592" width="2" height="2" fill="#e8200f"/><rect x="492" y="572" width="2" height="64" fill="#e8200f"/><rect x="490" y="592" width="2" height="2" fill="#e8200f"/><rect x="494" y="624" width="2" height="2" fill="#e8200f"/><rect x="500" y="608" width="2" height="34" fill="#3a8452"/><rect x="498" y="622" width="2" height="2" fill="#3a8452"/><rect x="502" y="612" width="2" height="2" fill="#3a8452"/><rect x="508" y="596" width="2" height="26" fill="#3a8452"/><rect x="506" y="618" width="2" height="2" fill="#3a8452"/><rect x="510" y="596" width="2" height="2" fill="#3a8452"/><rect x="516" y="596" width="2" height="30" fill="#e8200f"/><rect x="514" y="598" width="2" height="2" fill="#e8200f"/><rect x="518" y="608" width="2" height="2" fill="#e8200f"/><rect x="524" y="584" width="2" height="60" fill="#e8200f"/><rect x="522" y="608" width="2" height="2" fill="#e8200f"/><rect x="526" y="636" width="2" height="2" fill="#e8200f"/><rect x="532" y="590" width="2" height="52" fill="#3a8452"/><rect x="530" y="638" width="2" height="2" fill="#3a8452"/><rect x="534" y="612" width="2" height="2" fill="#3a8452"/><rect x="540" y="582" width="2" height="46" fill="#3a8452"/><rect x="538" y="612" width="2" height="2" fill="#3a8452"/><rect x="542" y="594" width="2" height="2" fill="#3a8452"/><rect x="548" y="590" width="2" height="24" fill="#e8200f"/><rect x="546" y="594" width="2" height="2" fill="#e8200f"/><rect x="550" y="600" width="2" height="2" fill="#e8200f"/><rect x="556" y="582" width="2" height="28" fill="#3a8452"/><rect x="554" y="598" width="2" height="2" fill="#3a8452"/><rect x="558" y="592" width="2" height="2" fill="#3a8452"/><rect x="564" y="582" width="2" height="28" fill="#e8200f"/><rect x="562" y="592" width="2" height="2" fill="#e8200f"/><rect x="566" y="598" width="2" height="2" fill="#e8200f"/><rect x="572" y="588" width="2" height="88" fill="#e8200f"/><rect x="570" y="598" width="2" height="2" fill="#e8200f"/><rect x="574" y="666" width="2" height="2" fill="#e8200f"/><rect x="580" y="598" width="2" height="80" fill="#3a8452"/><rect x="578" y="666" width="2" height="2" fill="#3a8452"/><rect x="582" y="636" width="2" height="2" fill="#3a8452"/><rect x="588" y="592" width="2" height="58" fill="#3a8452"/><rect x="586" y="634" width="2" height="2" fill="#3a8452"/><rect x="590" y="612" width="2" height="2" fill="#3a8452"/><rect x="596" y="596" width="2" height="92" fill="#e8200f"/><rect x="594" y="612" width="2" height="2" fill="#e8200f"/><rect x="598" y="678" width="2" height="2" fill="#e8200f"/><rect x="604" y="640" width="2" height="40" fill="#3a8452"/><rect x="602" y="678" width="2" height="2" fill="#3a8452"/><rect x="606" y="666" width="2" height="2" fill="#3a8452"/><rect x="612" y="590" width="2" height="96" fill="#3a8452"/><rect x="610" y="666" width="2" height="2" fill="#3a8452"/><rect x="614" y="596" width="2" height="2" fill="#3a8452"/><rect x="620" y="560" width="2" height="90" fill="#e8200f"/><rect x="618" y="596" width="2" height="2" fill="#e8200f"/><rect x="622" y="626" width="2" height="2" fill="#e8200f"/><rect x="628" y="574" width="2" height="162" fill="#3a8452"/><rect x="626" y="628" width="2" height="2" fill="#3a8452"/><rect x="630" y="614" width="2" height="2" fill="#3a8452"/><rect x="636" y="556" width="2" height="122" fill="#e8200f"/><rect x="634" y="612" width="2" height="2" fill="#e8200f"/><rect x="638" y="620" width="2" height="2" fill="#e8200f"/><rect x="644" y="606" width="2" height="92" fill="#e8200f"/><rect x="642" y="620" width="2" height="2" fill="#e8200f"/><rect x="646" y="636" width="2" height="2" fill="#e8200f"/><rect x="652" y="628" width="2" height="106" fill="#e8200f"/><rect x="650" y="638" width="2" height="2" fill="#e8200f"/><rect x="654" y="678" width="2" height="2" fill="#e8200f"/><rect x="660" y="618" width="2" height="102" fill="#3a8452"/><rect x="658" y="680" width="2" height="2" fill="#3a8452"/><rect x="662" y="622" width="2" height="2" fill="#3a8452"/><rect x="668" y="582" width="2" height="94" fill="#e8200f"/><rect x="666" y="622" width="2" height="2" fill="#e8200f"/><rect x="670" y="656" width="2" height="2" fill="#e8200f"/><rect x="676" y="590" width="2" height="94" fill="#3a8452"/><rect x="674" y="656" width="2" height="2" fill="#3a8452"/><rect x="678" y="648" width="2" height="2" fill="#3a8452"/><rect x="684" y="628" width="2" height="32" fill="#3a8452"/><rect x="682" y="648" width="2" height="2" fill="#3a8452"/><rect x="686" y="634" width="2" height="2" fill="#3a8452"/><rect x="692" y="632" width="2" height="18" fill="#e8200f"/><rect x="690" y="634" width="2" height="2" fill="#e8200f"/><rect x="694" y="642" width="2" height="2" fill="#e8200f"/><rect x="700" y="640" width="2" height="36" fill="#e8200f"/><rect x="698" y="640" width="2" height="2" fill="#e8200f"/><rect x="702" y="666" width="2" height="2" fill="#e8200f"/><rect x="708" y="652" width="2" height="48" fill="#e8200f"/><rect x="706" y="664" width="2" height="2" fill="#e8200f"/><rect x="710" y="668" width="2" height="2" fill="#e8200f"/><rect x="716" y="668" width="2" height="52" fill="#e8200f"/><rect x="714" y="668" width="2" height="2" fill="#e8200f"/><rect x="718" y="712" width="2" height="2" fill="#e8200f"/><rect x="724" y="668" width="2" height="48" fill="#3a8452"/><rect x="722" y="712" width="2" height="2" fill="#3a8452"/><rect x="726" y="676" width="2" height="2" fill="#3a8452"/><rect x="732" y="670" width="2" height="38" fill="#e8200f"/><rect x="730" y="676" width="2" height="2" fill="#e8200f"/><rect x="734" y="696" width="2" height="2" fill="#e8200f"/><rect x="740" y="690" width="2" height="22" fill="#e8200f"/><rect x="738" y="698" width="2" height="2" fill="#e8200f"/><rect x="742" y="704" width="2" height="2" fill="#e8200f"/><rect x="748" y="698" width="2" height="96" fill="#e8200f"/><rect x="746" y="706" width="2" height="2" fill="#e8200f"/><rect x="750" y="764" width="2" height="2" fill="#e8200f"/><rect x="756" y="756" width="2" height="136" fill="#e8200f"/><rect x="754" y="766" width="2" height="2" fill="#e8200f"/><rect x="758" y="858" width="2" height="2" fill="#e8200f"/><rect x="764" y="822" width="2" height="82" fill="#3a8452"/><rect x="762" y="856" width="2" height="2" fill="#3a8452"/><rect x="766" y="836" width="2" height="2" fill="#3a8452"/><rect x="772" y="804" width="2" height="62" fill="#e8200f"/><rect x="770" y="836" width="2" height="2" fill="#e8200f"/><rect x="774" y="846" width="2" height="2" fill="#e8200f"/><rect x="780" y="842" width="2" height="76" fill="#e8200f"/><rect x="778" y="848" width="2" height="2" fill="#e8200f"/><rect x="782" y="862" width="2" height="2" fill="#e8200f"/><rect x="788" y="858" width="2" height="56" fill="#e8200f"/><rect x="786" y="864" width="2" height="2" fill="#e8200f"/><rect x="790" y="876" width="2" height="2" fill="#e8200f"/><rect x="796" y="870" width="2" height="54" fill="#e8200f"/><rect x="794" y="874" width="2" height="2" fill="#e8200f"/><rect x="798" y="900" width="2" height="2" fill="#e8200f"/><rect x="804" y="816" width="2" height="90" fill="#3a8452"/><rect x="802" y="900" width="2" height="2" fill="#3a8452"/><rect x="806" y="886" width="2" height="2" fill="#3a8452"/><rect x="812" y="806" width="2" height="184" fill="#e8200f"/><rect x="810" y="884" width="2" height="2" fill="#e8200f"/><rect x="814" y="978" width="2" height="2" fill="#e8200f"/><rect x="820" y="850" width="2" height="162" fill="#3a8452"/><rect x="818" y="980" width="2" height="2" fill="#3a8452"/><rect x="822" y="858" width="2" height="2" fill="#3a8452"/><rect x="828" y="736" width="2" height="164" fill="#3a8452"/><rect x="826" y="860" width="2" height="2" fill="#3a8452"/><rect x="830" y="740" width="2" height="2" fill="#3a8452"/><rect x="836" y="632" width="2" height="172" fill="#3a8452"/><rect x="834" y="740" width="2" height="2" fill="#3a8452"/><rect x="838" y="680" width="2" height="2" fill="#3a8452"/><rect x="844" y="640" width="2" height="128" fill="#3a8452"/><rect x="842" y="680" width="2" height="2" fill="#3a8452"/><rect x="846" y="666" width="2" height="2" fill="#3a8452"/><rect x="852" y="658" width="2" height="156" fill="#e8200f"/><rect x="850" y="666" width="2" height="2" fill="#e8200f"/><rect x="854" y="788" width="2" height="2" fill="#e8200f"/><rect x="860" y="722" width="2" height="166" fill="#3a8452"/><rect x="858" y="790" width="2" height="2" fill="#3a8452"/><rect x="862" y="770" width="2" height="2" fill="#3a8452"/><rect x="868" y="774" width="2" height="64" fill="#e8200f"/><rect x="866" y="774" width="2" height="2" fill="#e8200f"/><rect x="870" y="822" width="2" height="2" fill="#e8200f"/><rect x="876" y="814" width="2" height="46" fill="#e8200f"/><rect x="874" y="822" width="2" height="2" fill="#e8200f"/><rect x="878" y="840" width="2" height="2" fill="#e8200f"/><rect x="884" y="776" width="2" height="72" fill="#3a8452"/><rect x="882" y="838" width="2" height="2" fill="#3a8452"/><rect x="886" y="778" width="2" height="2" fill="#3a8452"/><rect x="892" y="764" width="2" height="42" fill="#e8200f"/><rect x="890" y="776" width="2" height="2" fill="#e8200f"/><rect x="894" y="802" width="2" height="2" fill="#e8200f"/><rect x="900" y="790" width="2" height="72" fill="#e8200f"/><rect x="898" y="804" width="2" height="2" fill="#e8200f"/><rect x="902" y="838" width="2" height="2" fill="#e8200f"/><rect x="908" y="804" width="2" height="108" fill="#e8200f"/><rect x="906" y="838" width="2" height="2" fill="#e8200f"/><rect x="910" y="896" width="2" height="2" fill="#e8200f"/><rect x="916" y="894" width="2" height="76" fill="#e8200f"/><rect x="914" y="898" width="2" height="2" fill="#e8200f"/><rect x="918" y="938" width="2" height="2" fill="#e8200f"/><rect x="924" y="922" width="2" height="58" fill="#e8200f"/><rect x="922" y="940" width="2" height="2" fill="#e8200f"/><rect x="926" y="956" width="2" height="2" fill="#e8200f"/><rect x="932" y="920" width="2" height="62" fill="#3a8452"/><rect x="930" y="958" width="2" height="2" fill="#3a8452"/><rect x="934" y="944" width="2" height="2" fill="#3a8452"/><rect x="940" y="906" width="2" height="58" fill="#3a8452"/><rect x="938" y="946" width="2" height="2" fill="#3a8452"/><rect x="942" y="934" width="2" height="2" fill="#3a8452"/><rect x="948" y="880" width="2" height="110" fill="#3a8452"/><rect x="946" y="934" width="2" height="2" fill="#3a8452"/><rect x="950" y="920" width="2" height="2" fill="#3a8452"/><rect x="956" y="830" width="2" height="122" fill="#3a8452"/><rect x="954" y="920" width="2" height="2" fill="#3a8452"/><rect x="958" y="842" width="2" height="2" fill="#3a8452"/><rect x="964" y="790" width="2" height="66" fill="#3a8452"/><rect x="962" y="840" width="2" height="2" fill="#3a8452"/><rect x="966" y="794" width="2" height="2" fill="#3a8452"/><rect x="972" y="786" width="2" height="82" fill="#e8200f"/><rect x="970" y="794" width="2" height="2" fill="#e8200f"/><rect x="974" y="854" width="2" height="2" fill="#e8200f"/><rect x="980" y="824" width="2" height="80" fill="#e8200f"/><rect x="978" y="856" width="2" height="2" fill="#e8200f"/><rect x="982" y="880" width="2" height="2" fill="#e8200f"/><rect x="988" y="810" width="2" height="86" fill="#3a8452"/><rect x="986" y="882" width="2" height="2" fill="#3a8452"/><rect x="990" y="822" width="2" height="2" fill="#3a8452"/><rect x="996" y="674" width="2" height="184" fill="#3a8452"/><rect x="994" y="820" width="2" height="2" fill="#3a8452"/><rect x="998" y="710" width="2" height="2" fill="#3a8452"/><rect x="1004" y="662" width="2" height="286" fill="#e8200f"/><rect x="1002" y="710" width="2" height="2" fill="#e8200f"/><rect x="1006" y="878" width="2" height="2" fill="#e8200f"/><rect x="1012" y="776" width="2" height="134" fill="#3a8452"/><rect x="1010" y="878" width="2" height="2" fill="#3a8452"/><rect x="1014" y="872" width="2" height="2" fill="#3a8452"/><rect x="1020" y="794" width="2" height="104" fill="#3a8452"/><rect x="1018" y="872" width="2" height="2" fill="#3a8452"/><rect x="1022" y="862" width="2" height="2" fill="#3a8452"/><rect x="1028" y="738" width="2" height="134" fill="#3a8452"/><rect x="1026" y="864" width="2" height="2" fill="#3a8452"/><rect x="1030" y="742" width="2" height="2" fill="#3a8452"/><rect x="1036" y="652" width="2" height="134" fill="#3a8452"/><rect x="1034" y="742" width="2" height="2" fill="#3a8452"/><rect x="1038" y="664" width="2" height="2" fill="#3a8452"/><rect x="1044" y="584" width="2" height="128" fill="#3a8452"/><rect x="1042" y="664" width="2" height="2" fill="#3a8452"/><rect x="1046" y="606" width="2" height="2" fill="#3a8452"/><rect x="1052" y="598" width="2" height="24" fill="#e8200f"/><rect x="1050" y="608" width="2" height="2" fill="#e8200f"/><rect x="1054" y="612" width="2" height="2" fill="#e8200f"/><rect x="1060" y="612" width="2" height="40" fill="#e8200f"/><rect x="1058" y="614" width="2" height="2" fill="#e8200f"/><rect x="1062" y="636" width="2" height="2" fill="#e8200f"/><rect x="1068" y="624" width="2" height="74" fill="#e8200f"/><rect x="1066" y="636" width="2" height="2" fill="#e8200f"/><rect x="1070" y="686" width="2" height="2" fill="#e8200f"/><rect x="1076" y="674" width="2" height="58" fill="#e8200f"/><rect x="1074" y="686" width="2" height="2" fill="#e8200f"/><rect x="1078" y="722" width="2" height="2" fill="#e8200f"/><rect x="1084" y="712" width="2" height="60" fill="#3a8452"/><rect x="1082" y="722" width="2" height="2" fill="#3a8452"/><rect x="1086" y="722" width="2" height="2" fill="#3a8452"/><rect x="1092" y="702" width="2" height="58" fill="#e8200f"/><rect x="1090" y="722" width="2" height="2" fill="#e8200f"/><rect x="1094" y="732" width="2" height="2" fill="#e8200f"/><rect x="1100" y="712" width="2" height="26" fill="#3a8452"/><rect x="1098" y="732" width="2" height="2" fill="#3a8452"/><rect x="1102" y="718" width="2" height="2" fill="#3a8452"/><rect x="1108" y="714" width="2" height="34" fill="#e8200f"/><rect x="1106" y="718" width="2" height="2" fill="#e8200f"/><rect x="1110" y="724" width="2" height="2" fill="#e8200f"/><rect x="1116" y="696" width="2" height="42" fill="#3a8452"/><rect x="1114" y="724" width="2" height="2" fill="#3a8452"/><rect x="1118" y="698" width="2" height="2" fill="#3a8452"/><rect x="1124" y="660" width="2" height="54" fill="#3a8452"/><rect x="1122" y="700" width="2" height="2" fill="#3a8452"/><rect x="1126" y="690" width="2" height="2" fill="#3a8452"/><rect x="1132" y="678" width="2" height="74" fill="#e8200f"/><rect x="1130" y="690" width="2" height="2" fill="#e8200f"/><rect x="1134" y="740" width="2" height="2" fill="#e8200f"/><rect x="1140" y="718" width="2" height="30" fill="#3a8452"/><rect x="1138" y="742" width="2" height="2" fill="#3a8452"/><rect x="1142" y="734" width="2" height="2" fill="#3a8452"/><rect x="1148" y="658" width="2" height="90" fill="#3a8452"/><rect x="1146" y="736" width="2" height="2" fill="#3a8452"/><rect x="1150" y="666" width="2" height="2" fill="#3a8452"/><rect x="1156" y="654" width="2" height="40" fill="#3a8452"/><rect x="1154" y="666" width="2" height="2" fill="#3a8452"/><rect x="1158" y="664" width="2" height="2" fill="#3a8452"/><rect x="1164" y="644" width="2" height="40" fill="#3a8452"/><rect x="1162" y="664" width="2" height="2" fill="#3a8452"/><rect x="1166" y="662" width="2" height="2" fill="#3a8452"/><rect x="1172" y="648" width="2" height="24" fill="#3a8452"/><rect x="1170" y="662" width="2" height="2" fill="#3a8452"/><rect x="1174" y="652" width="2" height="2" fill="#3a8452"/><rect x="1180" y="638" width="2" height="50" fill="#e8200f"/><rect x="1178" y="654" width="2" height="2" fill="#e8200f"/><rect x="1182" y="684" width="2" height="2" fill="#e8200f"/><rect x="1188" y="680" width="2" height="32" fill="#e8200f"/><rect x="1186" y="686" width="2" height="2" fill="#e8200f"/><rect x="1190" y="688" width="2" height="2" fill="#e8200f"/><rect x="1196" y="658" width="2" height="34" fill="#3a8452"/><rect x="1194" y="690" width="2" height="2" fill="#3a8452"/><rect x="1198" y="686" width="2" height="2" fill="#3a8452"/><rect x="1204" y="662" width="2" height="28" fill="#3a8452"/><rect x="1202" y="686" width="2" height="2" fill="#3a8452"/><rect x="1206" y="672" width="2" height="2" fill="#3a8452"/><rect x="1212" y="582" width="2" height="76" fill="#3a8452"/><rect x="1210" y="654" width="2" height="2" fill="#3a8452"/><rect x="1214" y="588" width="2" height="2" fill="#3a8452"/><rect x="1220" y="480" width="2" height="108" fill="#3a8452"/><rect x="1218" y="586" width="2" height="2" fill="#3a8452"/><rect x="1222" y="528" width="2" height="2" fill="#3a8452"/><rect x="1228" y="508" width="2" height="32" fill="#3a8452"/><rect x="1226" y="528" width="2" height="2" fill="#3a8452"/><rect x="1230" y="526" width="2" height="2" fill="#3a8452"/><rect x="1236" y="512" width="2" height="52" fill="#3a8452"/><rect x="1234" y="526" width="2" height="2" fill="#3a8452"/><rect x="1238" y="516" width="2" height="2" fill="#3a8452"/><rect x="1244" y="512" width="2" height="56" fill="#e8200f"/><rect x="1242" y="516" width="2" height="2" fill="#e8200f"/><rect x="1246" y="558" width="2" height="2" fill="#e8200f"/><rect x="1252" y="540" width="2" height="38" fill="#e8200f"/><rect x="1250" y="558" width="2" height="2" fill="#e8200f"/><rect x="1254" y="572" width="2" height="2" fill="#e8200f"/><rect x="1260" y="542" width="2" height="32" fill="#3a8452"/><rect x="1258" y="572" width="2" height="2" fill="#3a8452"/><rect x="1262" y="542" width="2" height="2" fill="#3a8452"/><rect x="1268" y="526" width="2" height="32" fill="#3a8452"/><rect x="1266" y="544" width="2" height="2" fill="#3a8452"/><rect x="1270" y="542" width="2" height="2" fill="#3a8452"/><rect x="1276" y="512" width="2" height="36" fill="#3a8452"/><rect x="1274" y="542" width="2" height="2" fill="#3a8452"/><rect x="1278" y="536" width="2" height="2" fill="#3a8452"/><rect x="1284" y="534" width="2" height="68" fill="#e8200f"/><rect x="1282" y="534" width="2" height="2" fill="#e8200f"/><rect x="1286" y="598" width="2" height="2" fill="#e8200f"/><rect x="1292" y="576" width="2" height="146" fill="#e8200f"/><rect x="1290" y="598" width="2" height="2" fill="#e8200f"/><rect x="1294" y="712" width="2" height="2" fill="#e8200f"/><rect x="1300" y="696" width="2" height="44" fill="#3a8452"/><rect x="1298" y="714" width="2" height="2" fill="#3a8452"/><rect x="1302" y="700" width="2" height="2" fill="#3a8452"/><rect x="1308" y="674" width="2" height="34" fill="#3a8452"/><rect x="1306" y="700" width="2" height="2" fill="#3a8452"/><rect x="1310" y="692" width="2" height="2" fill="#3a8452"/><rect x="1316" y="684" width="2" height="86" fill="#e8200f"/><rect x="1314" y="692" width="2" height="2" fill="#e8200f"/><rect x="1318" y="760" width="2" height="2" fill="#e8200f"/><rect x="1324" y="758" width="2" height="100" fill="#e8200f"/><rect x="1322" y="758" width="2" height="2" fill="#e8200f"/><rect x="1326" y="848" width="2" height="2" fill="#e8200f"/><rect x="1332" y="826" width="2" height="152" fill="#e8200f"/><rect x="1330" y="848" width="2" height="2" fill="#e8200f"/><rect x="1334" y="956" width="2" height="2" fill="#e8200f"/><rect x="1340" y="836" width="2" height="160" fill="#3a8452"/><rect x="1338" y="958" width="2" height="2" fill="#3a8452"/><rect x="1342" y="940" width="2" height="2" fill="#3a8452"/><rect x="1348" y="860" width="2" height="124" fill="#3a8452"/><rect x="1346" y="940" width="2" height="2" fill="#3a8452"/><rect x="1350" y="882" width="2" height="2" fill="#3a8452"/><rect x="1356" y="796" width="2" height="106" fill="#3a8452"/><rect x="1354" y="880" width="2" height="2" fill="#3a8452"/><rect x="1358" y="874" width="2" height="2" fill="#3a8452"/><rect x="1364" y="752" width="2" height="128" fill="#3a8452"/><rect x="1362" y="874" width="2" height="2" fill="#3a8452"/><rect x="1366" y="778" width="2" height="2" fill="#3a8452"/><rect x="1372" y="640" width="2" height="152" fill="#3a8452"/><rect x="1370" y="778" width="2" height="2" fill="#3a8452"/><rect x="1374" y="668" width="2" height="2" fill="#3a8452"/><rect x="1380" y="572" width="2" height="126" fill="#3a8452"/><rect x="1378" y="668" width="2" height="2" fill="#3a8452"/><rect x="1382" y="572" width="2" height="2" fill="#3a8452"/><rect x="1388" y="572" width="2" height="34" fill="#e8200f"/><rect x="1386" y="574" width="2" height="2" fill="#e8200f"/><rect x="1390" y="582" width="2" height="2" fill="#e8200f"/><rect x="1396" y="546" width="2" height="40" fill="#e8200f"/><rect x="1394" y="562" width="2" height="2" fill="#e8200f"/><rect x="1398" y="578" width="2" height="2" fill="#e8200f"/><rect x="1404" y="568" width="2" height="62" fill="#e8200f"/><rect x="1402" y="576" width="2" height="2" fill="#e8200f"/><rect x="1406" y="614" width="2" height="2" fill="#e8200f"/><rect x="1412" y="530" width="2" height="86" fill="#3a8452"/><rect x="1410" y="614" width="2" height="2" fill="#3a8452"/><rect x="1414" y="540" width="2" height="2" fill="#3a8452"/><rect x="1420" y="512" width="2" height="108" fill="#e8200f"/><rect x="1418" y="540" width="2" height="2" fill="#e8200f"/><rect x="1422" y="598" width="2" height="2" fill="#e8200f"/><rect x="1428" y="578" width="2" height="58" fill="#e8200f"/><rect x="1426" y="598" width="2" height="2" fill="#e8200f"/><rect x="1430" y="618" width="2" height="2" fill="#e8200f"/><rect x="1436" y="570" width="2" height="60" fill="#3a8452"/><rect x="1434" y="618" width="2" height="2" fill="#3a8452"/><rect x="1438" y="572" width="2" height="2" fill="#3a8452"/><rect x="1444" y="572" width="2" height="42" fill="#e8200f"/><rect x="1442" y="572" width="2" height="2" fill="#e8200f"/><rect x="1446" y="604" width="2" height="2" fill="#e8200f"/><rect x="1452" y="598" width="2" height="56" fill="#e8200f"/><rect x="1450" y="604" width="2" height="2" fill="#e8200f"/><rect x="1454" y="652" width="2" height="2" fill="#e8200f"/><rect x="1460" y="606" width="2" height="90" fill="#3a8452"/><rect x="1458" y="652" width="2" height="2" fill="#3a8452"/><rect x="1462" y="608" width="2" height="2" fill="#3a8452"/><rect x="1468" y="520" width="2" height="92" fill="#3a8452"/><rect x="1466" y="608" width="2" height="2" fill="#3a8452"/><rect x="1470" y="562" width="2" height="2" fill="#3a8452"/><rect x="1476" y="550" width="2" height="94" fill="#e8200f"/><rect x="1474" y="562" width="2" height="2" fill="#e8200f"/><rect x="1478" y="634" width="2" height="2" fill="#e8200f"/><rect x="1484" y="578" width="2" height="78" fill="#3a8452"/><rect x="1482" y="634" width="2" height="2" fill="#3a8452"/><rect x="1486" y="586" width="2" height="2" fill="#3a8452"/><rect x="1492" y="562" width="2" height="54" fill="#e8200f"/><rect x="1490" y="586" width="2" height="2" fill="#e8200f"/><rect x="1494" y="602" width="2" height="2" fill="#e8200f"/><rect x="1500" y="600" width="2" height="58" fill="#e8200f"/><rect x="1498" y="600" width="2" height="2" fill="#e8200f"/><rect x="1502" y="636" width="2" height="2" fill="#e8200f"/><rect x="1508" y="562" width="2" height="106" fill="#3a8452"/><rect x="1506" y="638" width="2" height="2" fill="#3a8452"/><rect x="1510" y="592" width="2" height="2" fill="#3a8452"/><rect x="1516" y="496" width="2" height="130" fill="#3a8452"/><rect x="1514" y="590" width="2" height="2" fill="#3a8452"/><rect x="1518" y="578" width="2" height="2" fill="#3a8452"/><rect x="1524" y="506" width="2" height="132" fill="#e8200f"/><rect x="1522" y="578" width="2" height="2" fill="#e8200f"/><rect x="1526" y="594" width="2" height="2" fill="#e8200f"/><rect x="1532" y="588" width="2" height="98" fill="#e8200f"/><rect x="1530" y="594" width="2" height="2" fill="#e8200f"/><rect x="1534" y="634" width="2" height="2" fill="#e8200f"/><rect x="1540" y="618" width="2" height="54" fill="#3a8452"/><rect x="1538" y="632" width="2" height="2" fill="#3a8452"/><rect x="1542" y="622" width="2" height="2" fill="#3a8452"/><rect x="1548" y="570" width="2" height="54" fill="#3a8452"/><rect x="1546" y="622" width="2" height="2" fill="#3a8452"/><rect x="1550" y="578" width="2" height="2" fill="#3a8452"/><rect x="1556" y="434" width="2" height="202" fill="#3a8452"/><rect x="1554" y="578" width="2" height="2" fill="#3a8452"/><rect x="1558" y="454" width="2" height="2" fill="#3a8452"/><rect x="1564" y="394" width="2" height="158" fill="#e8200f"/><rect x="1562" y="454" width="2" height="2" fill="#e8200f"/><rect x="1566" y="510" width="2" height="2" fill="#e8200f"/><rect x="1572" y="492" width="2" height="26" fill="#3a8452"/><rect x="1570" y="510" width="2" height="2" fill="#3a8452"/><rect x="1574" y="494" width="2" height="2" fill="#3a8452"/><rect x="1580" y="488" width="2" height="26" fill="#e8200f"/><rect x="1578" y="490" width="2" height="2" fill="#e8200f"/><rect x="1582" y="508" width="2" height="2" fill="#e8200f"/><rect x="1588" y="488" width="2" height="28" fill="#3a8452"/><rect x="1586" y="506" width="2" height="2" fill="#3a8452"/><rect x="1590" y="502" width="2" height="2" fill="#3a8452"/><rect x="1596" y="504" width="2" height="48" fill="#e8200f"/><rect x="1594" y="504" width="2" height="2" fill="#e8200f"/><rect x="1598" y="526" width="2" height="2" fill="#e8200f"/><rect x="1604" y="524" width="2" height="66" fill="#e8200f"/><rect x="1602" y="526" width="2" height="2" fill="#e8200f"/><rect x="1606" y="558" width="2" height="2" fill="#e8200f"/><rect x="1612" y="494" width="2" height="66" fill="#3a8452"/><rect x="1610" y="558" width="2" height="2" fill="#3a8452"/><rect x="1614" y="494" width="2" height="2" fill="#3a8452"/><rect x="1620" y="490" width="2" height="28" fill="#e8200f"/><rect x="1618" y="496" width="2" height="2" fill="#e8200f"/><rect x="1622" y="514" width="2" height="2" fill="#e8200f"/><rect x="1628" y="490" width="2" height="28" fill="#3a8452"/><rect x="1626" y="514" width="2" height="2" fill="#3a8452"/><rect x="1630" y="490" width="2" height="2" fill="#3a8452"/><rect x="1636" y="440" width="2" height="58" fill="#3a8452"/><rect x="1634" y="490" width="2" height="2" fill="#3a8452"/><rect x="1638" y="472" width="2" height="2" fill="#3a8452"/><rect x="1644" y="454" width="2" height="42" fill="#e8200f"/><rect x="1642" y="470" width="2" height="2" fill="#e8200f"/><rect x="1646" y="482" width="2" height="2" fill="#e8200f"/><rect x="1652" y="444" width="2" height="60" fill="#3a8452"/><rect x="1650" y="482" width="2" height="2" fill="#3a8452"/><rect x="1654" y="480" width="2" height="2" fill="#3a8452"/><rect x="1660" y="432" width="2" height="68" fill="#e8200f"/><rect x="1662" y="478" width="2" height="2" fill="#e8200f"/><rect x="1668" y="446" width="2" height="48" fill="#e8200f"/><rect x="1666" y="478" width="2" height="2" fill="#e8200f"/><rect x="1670" y="488" width="2" height="2" fill="#e8200f"/><rect x="1676" y="464" width="2" height="52" fill="#3a8452"/><rect x="1674" y="490" width="2" height="2" fill="#3a8452"/><rect x="1678" y="466" width="2" height="2" fill="#3a8452"/><rect x="1684" y="442" width="2" height="54" fill="#3a8452"/><rect x="1682" y="468" width="2" height="2" fill="#3a8452"/><rect x="1686" y="446" width="2" height="2" fill="#3a8452"/><rect x="1692" y="428" width="2" height="50" fill="#3a8452"/><rect x="1690" y="444" width="2" height="2" fill="#3a8452"/><rect x="1694" y="442" width="2" height="2" fill="#3a8452"/><rect x="1700" y="322" width="2" height="134" fill="#3a8452"/><rect x="1698" y="444" width="2" height="2" fill="#3a8452"/><rect x="1702" y="330" width="2" height="2" fill="#3a8452"/><rect x="1708" y="310" width="2" height="80" fill="#3a8452"/><rect x="1706" y="332" width="2" height="2" fill="#3a8452"/><rect x="1710" y="328" width="2" height="2" fill="#3a8452"/><rect x="1716" y="298" width="2" height="48" fill="#3a8452"/><rect x="1714" y="330" width="2" height="2" fill="#3a8452"/><rect x="1718" y="304" width="2" height="2" fill="#3a8452"/><rect x="1724" y="280" width="2" height="38" fill="#3a8452"/><rect x="1722" y="306" width="2" height="2" fill="#3a8452"/><rect x="1726" y="296" width="2" height="2" fill="#3a8452"/><rect x="1732" y="278" width="2" height="52" fill="#3a8452"/><rect x="1730" y="298" width="2" height="2" fill="#3a8452"/><rect x="1734" y="280" width="2" height="2" fill="#3a8452"/><rect x="1740" y="254" width="2" height="32" fill="#3a8452"/><rect x="1738" y="280" width="2" height="2" fill="#3a8452"/><rect x="1742" y="260" width="2" height="2" fill="#3a8452"/><rect x="1748" y="218" width="2" height="58" fill="#e8200f"/><rect x="1746" y="258" width="2" height="2" fill="#e8200f"/><rect x="1750" y="264" width="2" height="2" fill="#e8200f"/><rect x="1756" y="262" width="2" height="30" fill="#e8200f"/><rect x="1754" y="262" width="2" height="2" fill="#e8200f"/><rect x="1758" y="284" width="2" height="2" fill="#e8200f"/><rect x="1764" y="278" width="2" height="20" fill="#3a8452"/><rect x="1762" y="288" width="2" height="2" fill="#3a8452"/><rect x="1766" y="282" width="2" height="2" fill="#3a8452"/><rect x="1772" y="278" width="2" height="28" fill="#e8200f"/><rect x="1770" y="280" width="2" height="2" fill="#e8200f"/><rect x="1774" y="294" width="2" height="2" fill="#e8200f"/><rect x="1780" y="268" width="2" height="44" fill="#3a8452"/><rect x="1778" y="292" width="2" height="2" fill="#3a8452"/><rect x="1782" y="274" width="2" height="2" fill="#3a8452"/><rect x="1788" y="260" width="2" height="36" fill="#e8200f"/><rect x="1786" y="272" width="2" height="2" fill="#e8200f"/><rect x="1790" y="286" width="2" height="2" fill="#e8200f"/><rect x="1796" y="268" width="2" height="70" fill="#e8200f"/><rect x="1794" y="286" width="2" height="2" fill="#e8200f"/><rect x="1798" y="326" width="2" height="2" fill="#e8200f"/><rect x="1804" y="298" width="2" height="42" fill="#e8200f"/><rect x="1802" y="328" width="2" height="2" fill="#e8200f"/><rect x="1806" y="332" width="2" height="2" fill="#e8200f"/><rect x="1812" y="310" width="2" height="26" fill="#3a8452"/><rect x="1810" y="334" width="2" height="2" fill="#3a8452"/><rect x="1814" y="312" width="2" height="2" fill="#3a8452"/><rect x="1820" y="308" width="2" height="46" fill="#e8200f"/><rect x="1818" y="312" width="2" height="2" fill="#e8200f"/><rect x="1822" y="346" width="2" height="2" fill="#e8200f"/><rect x="1828" y="318" width="2" height="36" fill="#3a8452"/><rect x="1826" y="344" width="2" height="2" fill="#3a8452"/><rect x="1830" y="318" width="2" height="2" fill="#3a8452"/><rect x="1836" y="286" width="2" height="54" fill="#3a8452"/><rect x="1834" y="318" width="2" height="2" fill="#3a8452"/><rect x="1838" y="310" width="2" height="2" fill="#3a8452"/><rect x="1844" y="290" width="2" height="44" fill="#e8200f"/><rect x="1842" y="310" width="2" height="2" fill="#e8200f"/><rect x="1846" y="330" width="2" height="2" fill="#e8200f"/><rect x="12" y="68" width="2310" height="2" fill="#e8200f"/><rect x="12" y="456" width="2310" height="2" fill="#e8200f"/></svg>
<div style="left:2324px;top:40px;width:4px;height:2px;background:#000;"></div>
<div class="t" style="left:2333.00px;top:32.49px;font-size:19.5px;line-height:19.5px;color:#000;transform:scaleX(0.9201);transform-origin:0 0;">3949.30</div>
<div style="left:2324px;top:106px;width:4px;height:2px;background:#000;"></div>
<div class="t" style="left:2333.00px;top:98.49px;font-size:19.5px;line-height:19.5px;color:#000;transform:scaleX(0.9201);transform-origin:0 0;">3934.90</div>
<div style="left:2324px;top:172px;width:4px;height:2px;background:#000;"></div>
<div class="t" style="left:2333.00px;top:164.49px;font-size:19.5px;line-height:19.5px;color:#000;transform:scaleX(0.9201);transform-origin:0 0;">3920.50</div>
<div style="left:2324px;top:238px;width:4px;height:2px;background:#000;"></div>
<div class="t" style="left:2333.00px;top:230.49px;font-size:19.5px;line-height:19.5px;color:#000;transform:scaleX(0.9201);transform-origin:0 0;">3906.10</div>
<div style="left:2324px;top:304px;width:4px;height:2px;background:#000;"></div>
<div class="t" style="left:2333.00px;top:296.49px;font-size:19.5px;line-height:19.5px;color:#000;transform:scaleX(0.9201);transform-origin:0 0;">3891.70</div>
<div style="left:2324px;top:370px;width:4px;height:2px;background:#000;"></div>
<div class="t" style="left:2333.00px;top:362.49px;font-size:19.5px;line-height:19.5px;color:#000;transform:scaleX(0.9201);transform-origin:0 0;">3876.90</div>
<div style="left:2324px;top:436px;width:4px;height:2px;background:#000;"></div>
<div class="t" style="left:2333.00px;top:428.49px;font-size:19.5px;line-height:19.5px;color:#000;transform:scaleX(0.9201);transform-origin:0 0;">3862.50</div>
<div style="left:2324px;top:502px;width:4px;height:2px;background:#000;"></div>
<div class="t" style="left:2333.00px;top:494.49px;font-size:19.5px;line-height:19.5px;color:#000;transform:scaleX(0.9201);transform-origin:0 0;">3848.10</div>
<div style="left:2324px;top:568px;width:4px;height:2px;background:#000;"></div>
<div class="t" style="left:2333.00px;top:560.49px;font-size:19.5px;line-height:19.5px;color:#000;transform:scaleX(0.9201);transform-origin:0 0;">3833.70</div>
<div style="left:2324px;top:634px;width:4px;height:2px;background:#000;"></div>
<div class="t" style="left:2333.00px;top:626.49px;font-size:19.5px;line-height:19.5px;color:#000;transform:scaleX(0.9201);transform-origin:0 0;">3819.30</div>
<div style="left:2324px;top:700px;width:4px;height:2px;background:#000;"></div>
<div class="t" style="left:2333.00px;top:692.49px;font-size:19.5px;line-height:19.5px;color:#000;transform:scaleX(0.9201);transform-origin:0 0;">3804.90</div>
<div style="left:2324px;top:766px;width:4px;height:2px;background:#000;"></div>
<div class="t" style="left:2333.00px;top:758.49px;font-size:19.5px;line-height:19.5px;color:#000;transform:scaleX(0.9201);transform-origin:0 0;">3790.10</div>
<div style="left:2324px;top:832px;width:4px;height:2px;background:#000;"></div>
<div class="t" style="left:2333.00px;top:824.49px;font-size:19.5px;line-height:19.5px;color:#000;transform:scaleX(0.9201);transform-origin:0 0;">3775.70</div>
<div style="left:2324px;top:898px;width:4px;height:2px;background:#000;"></div>
<div class="t" style="left:2333.00px;top:890.49px;font-size:19.5px;line-height:19.5px;color:#000;transform:scaleX(0.9201);transform-origin:0 0;">3761.30</div>
<div style="left:2324px;top:964px;width:4px;height:2px;background:#000;"></div>
<div class="t" style="left:2333.00px;top:956.49px;font-size:19.5px;line-height:19.5px;color:#000;transform:scaleX(0.9201);transform-origin:0 0;">3746.90</div>
<div style="left:2324px;top:1030px;width:4px;height:2px;background:#000;"></div>
<div class="t" style="left:2333.00px;top:1022.49px;font-size:19.5px;line-height:19.5px;color:#000;transform:scaleX(0.9201);transform-origin:0 0;">3732.50</div>
<div style="left:2328px;top:56px;width:78px;height:22px;background:#e6291f;"></div>
<div class="t" style="left:2334.00px;top:58.49px;font-size:19.5px;line-height:19.5px;color:#fff;transform:scaleX(0.9190);transform-origin:0 0;">3943.27</div>
<div style="left:2328px;top:320px;width:78px;height:22px;background:#000;"></div>
<div class="t" style="left:2334.00px;top:322.49px;font-size:19.5px;line-height:19.5px;color:#fff;transform:scaleX(0.9060);transform-origin:0 0;">3886.00</div>
<div style="left:2328px;top:444px;width:78px;height:22px;background:#e6291f;"></div>
<div class="t" style="left:2334.00px;top:446.49px;font-size:19.5px;line-height:19.5px;color:#fff;transform:scaleX(0.9060);transform-origin:0 0;">3858.30</div>
<div style="left:12px;top:1038px;width:2px;height:6px;background:#000;"></div>
<div class="t" style="left:9.50px;top:1046.49px;font-size:19.5px;line-height:19.5px;color:#000;transform:scaleX(0.9249);transform-origin:0 0;">24 Jun 2022</div>
<div style="left:140px;top:1038px;width:2px;height:6px;background:#000;"></div>
<div class="t" style="left:137.50px;top:1046.49px;font-size:19.5px;line-height:19.5px;color:#000;transform:scaleX(0.9255);transform-origin:0 0;">27 Jun 01:00</div>
<div style="left:268px;top:1038px;width:2px;height:6px;background:#000;"></div>
<div class="t" style="left:265.50px;top:1046.49px;font-size:19.5px;line-height:19.5px;color:#000;transform:scaleX(0.9255);transform-origin:0 0;">27 Jun 17:00</div>
<div style="left:396px;top:1038px;width:2px;height:6px;background:#000;"></div>
<div class="t" style="left:393.50px;top:1046.49px;font-size:19.5px;line-height:19.5px;color:#000;transform:scaleX(0.9255);transform-origin:0 0;">28 Jun 10:00</div>
<div style="left:524px;top:1038px;width:2px;height:6px;background:#000;"></div>
<div class="t" style="left:521.50px;top:1046.49px;font-size:19.5px;line-height:19.5px;color:#000;transform:scaleX(0.9255);transform-origin:0 0;">29 Jun 03:00</div>
<div style="left:652px;top:1038px;width:2px;height:6px;background:#000;"></div>
<div class="t" style="left:649.50px;top:1046.49px;font-size:19.5px;line-height:19.5px;color:#000;transform:scaleX(0.9255);transform-origin:0 0;">29 Jun 19:00</div>
<div style="left:780px;top:1038px;width:2px;height:6px;background:#000;"></div>
<div class="t" style="left:777.50px;top:1046.49px;font-size:19.5px;line-height:19.5px;color:#000;transform:scaleX(0.9255);transform-origin:0 0;">30 Jun 12:00</div>
<div style="left:908px;top:1038px;width:2px;height:6px;background:#000;"></div>
<div class="t" style="left:904.56px;top:1046.49px;font-size:19.5px;line-height:19.5px;color:#000;transform:scaleX(0.9359);transform-origin:0 0;">1 Jul 05:00</div>
<div style="left:1036px;top:1038px;width:2px;height:6px;background:#000;"></div>
<div class="t" style="left:1032.56px;top:1046.49px;font-size:19.5px;line-height:19.5px;color:#000;transform:scaleX(0.9359);transform-origin:0 0;">1 Jul 21:00</div>
<div style="left:1164px;top:1038px;width:2px;height:6px;background:#000;"></div>
<div class="t" style="left:1161.50px;top:1046.49px;font-size:19.5px;line-height:19.5px;color:#000;transform:scaleX(0.9261);transform-origin:0 0;">4 Jul 14:00</div>
<div style="left:1292px;top:1038px;width:2px;height:6px;background:#000;"></div>
<div class="t" style="left:1289.50px;top:1046.49px;font-size:19.5px;line-height:19.5px;color:#000;transform:scaleX(0.9404);transform-origin:0 0;">5 Jul 11:00</div>
<div style="left:1420px;top:1038px;width:2px;height:6px;background:#000;"></div>
<div class="t" style="left:1417.50px;top:1046.49px;font-size:19.5px;line-height:19.5px;color:#000;transform:scaleX(0.9261);transform-origin:0 0;">6 Jul 04:00</div>
<div style="left:1548px;top:1038px;width:2px;height:6px;background:#000;"></div>
<div class="t" style="left:1545.50px;top:1046.49px;font-size:19.5px;line-height:19.5px;color:#000;transform:scaleX(0.9261);transform-origin:0 0;">6 Jul 20:00</div>
<div style="left:1676px;top:1038px;width:2px;height:6px;background:#000;"></div>
<div class="t" style="left:1672.56px;top:1046.49px;font-size:19.5px;line-height:19.5px;color:#000;transform:scaleX(0.9359);transform-origin:0 0;">7 Jul 13:00</div>
<div style="left:1804px;top:1038px;width:2px;height:6px;background:#000;"></div>
<div class="t" style="left:1801.50px;top:1046.49px;font-size:19.5px;line-height:19.5px;color:#000;transform:scaleX(0.9261);transform-origin:0 0;">8 Jul 06:00</div>
<svg style="position:absolute;left:18px;top:20px" width="14" height="8"><path d="M0 8H14V6H12V4H10V2H8V0H6V2H4V4H2V6H0Z" fill="#000"/></svg>
<div class="t" style="left:41.00px;top:14.49px;font-size:19.5px;line-height:19.5px;color:#000;transform:scaleX(0.9302);transform-origin:0 0;">SPX500,H1</div>
<div class="t" style="left:147.50px;top:14.49px;font-size:19.5px;line-height:19.5px;color:#000;transform:scaleX(0.9130);transform-origin:0 0;">3890.10</div>
<div class="t" style="left:219.50px;top:14.49px;font-size:19.5px;line-height:19.5px;color:#000;transform:scaleX(0.9130);transform-origin:0 0;">3894.80</div>
<div class="t" style="left:291.50px;top:14.49px;font-size:19.5px;line-height:19.5px;color:#000;transform:scaleX(0.9130);transform-origin:0 0;">3885.30</div>
<div class="t" style="left:363.50px;top:14.49px;font-size:19.5px;line-height:19.5px;color:#000;transform:scaleX(0.9130);transform-origin:0 0;">3886.00</div>
<div style="left:14px;top:32px;width:382px;height:120px;background:#fff;"></div>
<div style="left:18px;top:38px;width:374px;height:110px;background:linear-gradient(#585cf8 0%,#3c40e2 36%,#1c26c8 68%,#000fa6 100%)"></div>
<div style="left:18px;top:38px;width:88px;height:2px;background:#0008a8;"></div>
<div style="left:18px;top:38px;width:2px;height:110px;background:#0010a8;"></div>
<div style="left:104px;top:38px;width:2px;height:42px;background:#0008b0;"></div>
<div style="left:304px;top:38px;width:88px;height:2px;background:#0008a8;"></div>
<div style="left:390px;top:38px;width:2px;height:110px;background:#0010a8;"></div>
<div style="left:304px;top:38px;width:2px;height:42px;background:#0008b0;"></div>
<div style="left:18px;top:146px;width:374px;height:2px;background:#000c9c;"></div>
<div style="left:106px;top:38px;width:198px;height:42px;background:#fff;"></div>
<div style="left:204px;top:80px;width:4px;height:68px;background:#fff;"></div>
<div style="left:106px;top:78px;width:98px;height:2px;background:#0010a8;"></div>
<div style="left:208px;top:78px;width:96px;height:2px;background:#0010a8;"></div>
<div style="left:202px;top:80px;width:2px;height:68px;background:#0010a8;"></div>
<div style="left:208px;top:80px;width:2px;height:68px;background:#0010a8;"></div>
<div style="left:26px;top:76px;width:70px;height:2px;background:#000c90;"></div>
<div style="left:26px;top:78px;width:70px;height:2px;background:#8a8cff;"></div>
<div style="left:312px;top:76px;width:70px;height:2px;background:#000c90;"></div>
<div style="left:312px;top:78px;width:70px;height:2px;background:#8a8cff;"></div>
<div style="left:110px;top:38px;width:190px;height:36px;background:#000;"></div>
<div style="left:112px;top:40px;width:186px;height:32px;background:#fff;"></div>
<div style="left:114px;top:42px;width:28px;height:28px;background:#e1e1e1;"></div>
<div style="left:144px;top:40px;width:2px;height:32px;background:#000;"></div>
<div style="left:264px;top:40px;width:2px;height:32px;background:#000;"></div>
<div style="left:268px;top:42px;width:28px;height:28px;background:#e1e1e1;"></div>
<svg style="position:absolute;left:120px;top:52px" width="14" height="8"><path d="M0 0H14V2H12V4H10V6H8V8H6V6H4V4H2V2H0Z" fill="#000"/></svg>
<svg style="position:absolute;left:274px;top:50px" width="14" height="8"><path d="M0 8H14V6H12V4H10V2H8V0H6V2H4V4H2V6H0Z" fill="#000"/></svg>
<div class="t" style="left:211.95px;top:49.22px;font-size:21px;line-height:21px;color:#000;transform:scaleX(1.0461);transform-origin:0 0;">1.00</div>
<div class="t" style="left:36.69px;top:50.38px;font-size:22px;line-height:22px;color:#fff;transform:scaleX(0.8082);transform-origin:0 0;">SELL</div>
<div class="t" style="left:326.68px;top:50.38px;font-size:22px;line-height:22px;color:#fff;transform:scaleX(0.8191);transform-origin:0 0;">BUY</div>
<div class="t" style="left:47.50px;top:119.45px;font-size:22.5px;line-height:22.5px;color:#fff;font-weight:bold;transform:scaleX(1.1001);transform-origin:0 0;">3886</div>
<div class="t" style="left:235.50px;top:119.45px;font-size:22.5px;line-height:22.5px;color:#fff;font-weight:bold;transform:scaleX(1.1001);transform-origin:0 0;">3886</div>
<div class="t" style="left:109.15px;top:82.48px;font-size:65px;line-height:65px;color:#fff;transform:scaleX(0.9244);transform-origin:0 0;">00</div>
<div class="t" style="left:301.27px;top:82.48px;font-size:65px;line-height:65px;color:#fff;transform:scaleX(0.9084);transform-origin:0 0;">75</div>
<div style="left:4px;top:1078px;width:2412px;height:2px;background:#e8e8e8;"></div>
<div style="left:6px;top:1084px;width:2410px;height:38px;background:#e2e2e2;"></div>
<div style="left:2px;top:1082px;width:2414px;height:2px;background:#000;"></div>
<div style="left:718px;top:1082px;width:152px;height:38px;background:#000;"></div>
<div style="left:720px;top:1080px;width:148px;height:38px;background:#fff;"></div>
<div style="left:870px;top:1086px;width:2px;height:36px;background:#a0a0a0;"></div>
<div style="left:720px;top:1120px;width:152px;height:2px;background:#a0a0a0;"></div>
<div class="t" style="left:36.57px;top:1090.38px;font-size:22px;line-height:22px;color:#404040;transform:scaleX(0.9282);transform-origin:0 0;">DX,Daily</div>
<div class="t" style="left:164.09px;top:1090.38px;font-size:22px;line-height:22px;color:#404040;transform:scaleX(0.9062);transform-origin:0 0;">EURUSDm,M15</div>
<div class="t" style="left:355.11px;top:1090.38px;font-size:22px;line-height:22px;color:#404040;transform:scaleX(0.8902);transform-origin:0 0;">GBPCHFm,Daily</div>
<div class="t" style="left:549.00px;top:1090.38px;font-size:22px;line-height:22px;color:#404040;transform:scaleX(0.9012);transform-origin:0 0;">XAUUSDm,M15</div>
<div class="t" style="left:739.10px;top:1090.38px;font-size:22px;line-height:22px;color:#000;transform:scaleX(0.8969);transform-origin:0 0;">SPX500,H1</div>
<div class="t" style="left:889.00px;top:1090.38px;font-size:22px;line-height:22px;color:#404040;transform:scaleX(0.8963);transform-origin:0 0;">XAGUSDm,Daily</div>
<div style="left:142px;top:1088px;width:2px;height:28px;background:#404040;"></div>
<div style="left:334px;top:1088px;width:2px;height:28px;background:#404040;"></div>
<div style="left:526px;top:1088px;width:2px;height:28px;background:#404040;"></div>
<div style="left:1062px;top:1088px;width:2px;height:28px;background:#404040;"></div>
<svg style="position:absolute;left:2354px;top:1094px" width="6" height="12"><path d="M6 0V12H4V10H2V8H0V4H2V2H4V0Z" fill="#9a9a9a"/></svg>
<svg style="position:absolute;left:2392px;top:1094px" width="6" height="12"><path d="M0 0V12H2V10H4V8H6V4H4V2H2V0Z" fill="#9a9a9a"/></svg>
<div style="left:0px;top:1122px;width:2416px;height:2px;background:#fbfbfb;"></div>
<div style="left:0px;top:1124px;width:2416px;height:6px;background:#e8e8e8;"></div>
<div style="left:0px;top:1130px;width:2412px;height:2px;background:#777;"></div>
<div style="left:0px;top:1132px;width:2410px;height:2px;background:#fff;"></div>
<div style="left:0px;top:1134px;width:2410px;height:28px;background:#e2e2e2;"></div>
<div style="left:0px;top:1162px;width:2410px;height:2px;background:#808080;"></div>
<div style="left:0px;top:1164px;width:2410px;height:2px;background:#404040;"></div>
<div style="left:0px;top:1166px;width:2410px;height:2px;background:#c8c8c8;"></div>
<div style="left:0px;top:1168px;width:2410px;height:38px;background:#fff;"></div>
<div style="left:2410px;top:1132px;width:2px;height:116px;background:#dcdcdc;"></div>
<div style="left:2412px;top:1132px;width:2px;height:116px;background:#fafafa;"></div>
<div style="left:2414px;top:1132px;width:2px;height:116px;background:#e8e8e8;"></div>
<div style="left:236px;top:1134px;width:2px;height:30px;background:#808080;"></div>
<div style="left:238px;top:1132px;width:2px;height:32px;background:#404040;"></div>
<div style="left:240px;top:1132px;width:2px;height:32px;background:#fff;"></div>
<div style="left:236px;top:1168px;width:2px;height:38px;background:#c4c4c4;"></div>
<div class="t" style="left:180.00px;top:1140.38px;font-size:22px;line-height:22px;color:#000;transform:scaleX(0.8780);transform-origin:0 0;">Time</div>
<div class="t" style="left:24.98px;top:1178.38px;font-size:22px;line-height:22px;color:#000;transform:scaleX(1.0168);transform-origin:0 0;">2022.07.07 16:30:03</div>
<div style="left:430px;top:1134px;width:2px;height:30px;background:#808080;"></div>
<div style="left:432px;top:1132px;width:2px;height:32px;background:#404040;"></div>
<div style="left:434px;top:1132px;width:2px;height:32px;background:#fff;"></div>
<div style="left:430px;top:1168px;width:2px;height:38px;background:#c4c4c4;"></div>
<div class="t" style="left:370.00px;top:1140.38px;font-size:22px;line-height:22px;color:#000;transform:scaleX(0.9692);transform-origin:0 0;">Type</div>
<div class="t" style="left:389.01px;top:1178.38px;font-size:22px;line-height:22px;color:#000;transform:scaleX(0.9863);transform-origin:0 0;">buy</div>
<div style="left:580px;top:1134px;width:2px;height:30px;background:#808080;"></div>
<div style="left:582px;top:1132px;width:2px;height:32px;background:#404040;"></div>
<div style="left:584px;top:1132px;width:2px;height:32px;background:#fff;"></div>
<div style="left:580px;top:1168px;width:2px;height:38px;background:#c4c4c4;"></div>
<div class="t" style="left:528.62px;top:1140.38px;font-size:22px;line-height:22px;color:#000;transform:scaleX(0.8782);transform-origin:0 0;">Size</div>
<div class="t" style="left:532.53px;top:1178.38px;font-size:22px;line-height:22px;color:#000;transform:scaleX(0.9740);transform-origin:0 0;">1.00</div>
<div style="left:774px;top:1134px;width:2px;height:30px;background:#808080;"></div>
<div style="left:776px;top:1132px;width:2px;height:32px;background:#404040;"></div>
<div style="left:778px;top:1132px;width:2px;height:32px;background:#fff;"></div>
<div style="left:774px;top:1168px;width:2px;height:38px;background:#c4c4c4;"></div>
<div class="t" style="left:692.56px;top:1140.38px;font-size:22px;line-height:22px;color:#000;transform:scaleX(0.9444);transform-origin:0 0;">Symbol</div>
<div class="t" style="left:700.00px;top:1178.38px;font-size:22px;line-height:22px;color:#000;transform:scaleX(0.9617);transform-origin:0 0;">spx500</div>
<div style="left:990px;top:1134px;width:2px;height:30px;background:#808080;"></div>
<div style="left:992px;top:1132px;width:2px;height:32px;background:#404040;"></div>
<div style="left:994px;top:1132px;width:2px;height:32px;background:#fff;"></div>
<div style="left:990px;top:1168px;width:2px;height:38px;background:#c4c4c4;"></div>
<div class="t" style="left:930.58px;top:1140.38px;font-size:22px;line-height:22px;color:#000;transform:scaleX(0.9205);transform-origin:0 0;">Price</div>
<div class="t" style="left:906.00px;top:1178.38px;font-size:22px;line-height:22px;color:#000;transform:scaleX(0.9837);transform-origin:0 0;">3865.85</div>
<div style="left:1206px;top:1134px;width:2px;height:30px;background:#808080;"></div>
<div style="left:1208px;top:1132px;width:2px;height:32px;background:#404040;"></div>
<div style="left:1210px;top:1132px;width:2px;height:32px;background:#fff;"></div>
<div style="left:1206px;top:1168px;width:2px;height:38px;background:#c4c4c4;"></div>
<div class="t" style="left:1150.59px;top:1140.38px;font-size:22px;line-height:22px;color:#000;transform:scaleX(0.9089);transform-origin:0 0;">S / L</div>
<div class="t" style="left:1121.50px;top:1178.38px;font-size:22px;line-height:22px;color:#000;transform:scaleX(0.9900);transform-origin:0 0;">3847.60</div>
<div style="left:1422px;top:1134px;width:2px;height:30px;background:#808080;"></div>
<div style="left:1424px;top:1132px;width:2px;height:32px;background:#404040;"></div>
<div style="left:1426px;top:1132px;width:2px;height:32px;background:#fff;"></div>
<div style="left:1422px;top:1168px;width:2px;height:38px;background:#c4c4c4;"></div>
<div class="t" style="left:1366.00px;top:1140.38px;font-size:22px;line-height:22px;color:#000;transform:scaleX(0.9175);transform-origin:0 0;">T / P</div>
<div class="t" style="left:1337.50px;top:1178.38px;font-size:22px;line-height:22px;color:#000;transform:scaleX(0.9900);transform-origin:0 0;">3937.60</div>
<div style="left:1638px;top:1134px;width:2px;height:30px;background:#808080;"></div>
<div style="left:1640px;top:1132px;width:2px;height:32px;background:#404040;"></div>
<div style="left:1642px;top:1132px;width:2px;height:32px;background:#fff;"></div>
<div style="left:1638px;top:1168px;width:2px;height:38px;background:#c4c4c4;"></div>
<div class="t" style="left:1578.59px;top:1140.38px;font-size:22px;line-height:22px;color:#000;transform:scaleX(0.9102);transform-origin:0 0;">Price</div>
<div class="t" style="left:1553.50px;top:1178.38px;font-size:22px;line-height:22px;color:#000;transform:scaleX(0.9900);transform-origin:0 0;">3886.00</div>
<div style="left:1854px;top:1134px;width:2px;height:30px;background:#808080;"></div>
<div style="left:1856px;top:1132px;width:2px;height:32px;background:#404040;"></div>
<div style="left:1858px;top:1132px;width:2px;height:32px;background:#fff;"></div>
<div style="left:1854px;top:1168px;width:2px;height:38px;background:#c4c4c4;"></div>
<div class="t" style="left:1730.59px;top:1140.38px;font-size:22px;line-height:22px;color:#000;transform:scaleX(0.9134);transform-origin:0 0;">Commission</div>
<div class="t" style="left:1798.00px;top:1178.38px;font-size:22px;line-height:22px;color:#000;">-0.10</div>
<div style="left:2070px;top:1134px;width:2px;height:30px;background:#808080;"></div>
<div style="left:2072px;top:1132px;width:2px;height:32px;background:#404040;"></div>
<div style="left:2074px;top:1132px;width:2px;height:32px;background:#fff;"></div>
<div style="left:2070px;top:1168px;width:2px;height:38px;background:#c4c4c4;"></div>
<div class="t" style="left:2004.56px;top:1140.38px;font-size:22px;line-height:22px;color:#000;transform:scaleX(0.9387);transform-origin:0 0;">Swap</div>
<div class="t" style="left:2013.50px;top:1178.38px;font-size:22px;line-height:22px;color:#000;transform:scaleX(1.0118);transform-origin:0 0;">-0.63</div>
<div style="left:2406px;top:1134px;width:2px;height:30px;background:#808080;"></div>
<div style="left:2408px;top:1132px;width:2px;height:32px;background:#404040;"></div>
<div class="t" style="left:2340.49px;top:1140.38px;font-size:22px;line-height:22px;color:#000;transform:scaleX(1.0053);transform-origin:0 0;">Profit</div>
<div class="t" style="left:2304.49px;top:1178.38px;font-size:22px;line-height:22px;color:#000;transform:scaleX(1.0127);transform-origin:0 0;">20.15</div>
<svg style="position:absolute;left:2380px;top:1178px" width="16" height="16" shape-rendering="crispEdges" fill="#848484"><rect x="0" y="0" width="2" height="2"/><rect x="2" y="0" width="2" height="2"/><rect x="12" y="0" width="2" height="2"/><rect x="14" y="0" width="2" height="2"/><rect x="0" y="2" width="2" height="2"/><rect x="2" y="2" width="2" height="2"/><rect x="4" y="2" width="2" height="2"/><rect x="10" y="2" width="2" height="2"/><rect x="12" y="2" width="2" height="2"/><rect x="14" y="2" width="2" height="2"/><rect x="2" y="4" width="2" height="2"/><rect x="4" y="4" width="2" height="2"/><rect x="6" y="4" width="2" height="2"/><rect x="8" y="4" width="2" height="2"/><rect x="10" y="4" width="2" height="2"/><rect x="12" y="4" width="2" height="2"/><rect x="4" y="6" width="2" height="2"/><rect x="6" y="6" width="2" height="2"/><rect x="8" y="6" width="2" height="2"/><rect x="10" y="6" width="2" height="2"/><rect x="4" y="8" width="2" height="2"/><rect x="6" y="8" width="2" height="2"/><rect x="8" y="8" width="2" height="2"/><rect x="10" y="8" width="2" height="2"/><rect x="2" y="10" width="2" height="2"/><rect x="4" y="10" width="2" height="2"/><rect x="6" y="10" width="2" height="2"/><rect x="8" y="10" width="2" height="2"/><rect x="10" y="10" width="2" height="2"/><rect x="12" y="10" width="2" height="2"/><rect x="0" y="12" width="2" height="2"/><rect x="2" y="12" width="2" height="2"/><rect x="4" y="12" width="2" height="2"/><rect x="10" y="12" width="2" height="2"/><rect x="12" y="12" width="2" height="2"/><rect x="14" y="12" width="2" height="2"/><rect x="0" y="14" width="2" height="2"/><rect x="2" y="14" width="2" height="2"/><rect x="12" y="14" width="2" height="2"/><rect x="14" y="14" width="2" height="2"/></svg>
<div style="left:0px;top:1206px;width:2410px;height:40px;background:#c8c8c8;"></div>
<div style="left:0px;top:1246px;width:2410px;height:2px;background:#f6f6f6;"></div>
<div class="t" style="left:-3.00px;top:1218.38px;font-size:22px;line-height:22px;color:#000;font-weight:bold;transform:scaleX(1.0833);transform-origin:0 0;">2</div>
<div class="t" style="left:22.83px;top:1218.38px;font-size:22px;line-height:22px;color:#000;font-weight:bold;transform:scaleX(1.0712);transform-origin:0 0;">Margin:</div>
<div class="t" style="left:113.70px;top:1218.38px;font-size:22px;line-height:22px;color:#000;font-weight:bold;transform:scaleX(1.0963);transform-origin:0 0;">77.32</div>
<div class="t" style="left:186.53px;top:1218.38px;font-size:22px;line-height:22px;color:#000;font-weight:bold;transform:scaleX(1.0722);transform-origin:0 0;">Free</div>
<div class="t" style="left:242.94px;top:1218.38px;font-size:22px;line-height:22px;color:#000;font-weight:bold;transform:scaleX(1.0645);transform-origin:0 0;">margin:</div>
<div class="t" style="left:335.80px;top:1218.38px;font-size:22px;line-height:22px;color:#000;font-weight:bold;transform:scaleX(1.1125);transform-origin:0 0;">355.60</div>
<div class="t" style="left:422.31px;top:1218.38px;font-size:22px;line-height:22px;color:#000;font-weight:bold;transform:scaleX(1.0867);transform-origin:0 0;">Margin</div>
<div class="t" style="left:506.82px;top:1218.38px;font-size:22px;line-height:22px;color:#000;font-weight:bold;transform:scaleX(1.0792);transform-origin:0 0;">level:</div>
<div class="t" style="left:574.10px;top:1218.38px;font-size:22px;line-height:22px;color:#000;font-weight:bold;transform:scaleX(1.1577);transform-origin:0 0;">559.93%</div>
<div class="t" style="left:2300.41px;top:1218.38px;font-size:22px;line-height:22px;color:#000;font-weight:bold;transform:scaleX(1.0870);transform-origin:0 0;">19.42</div>
</div></body></html>
